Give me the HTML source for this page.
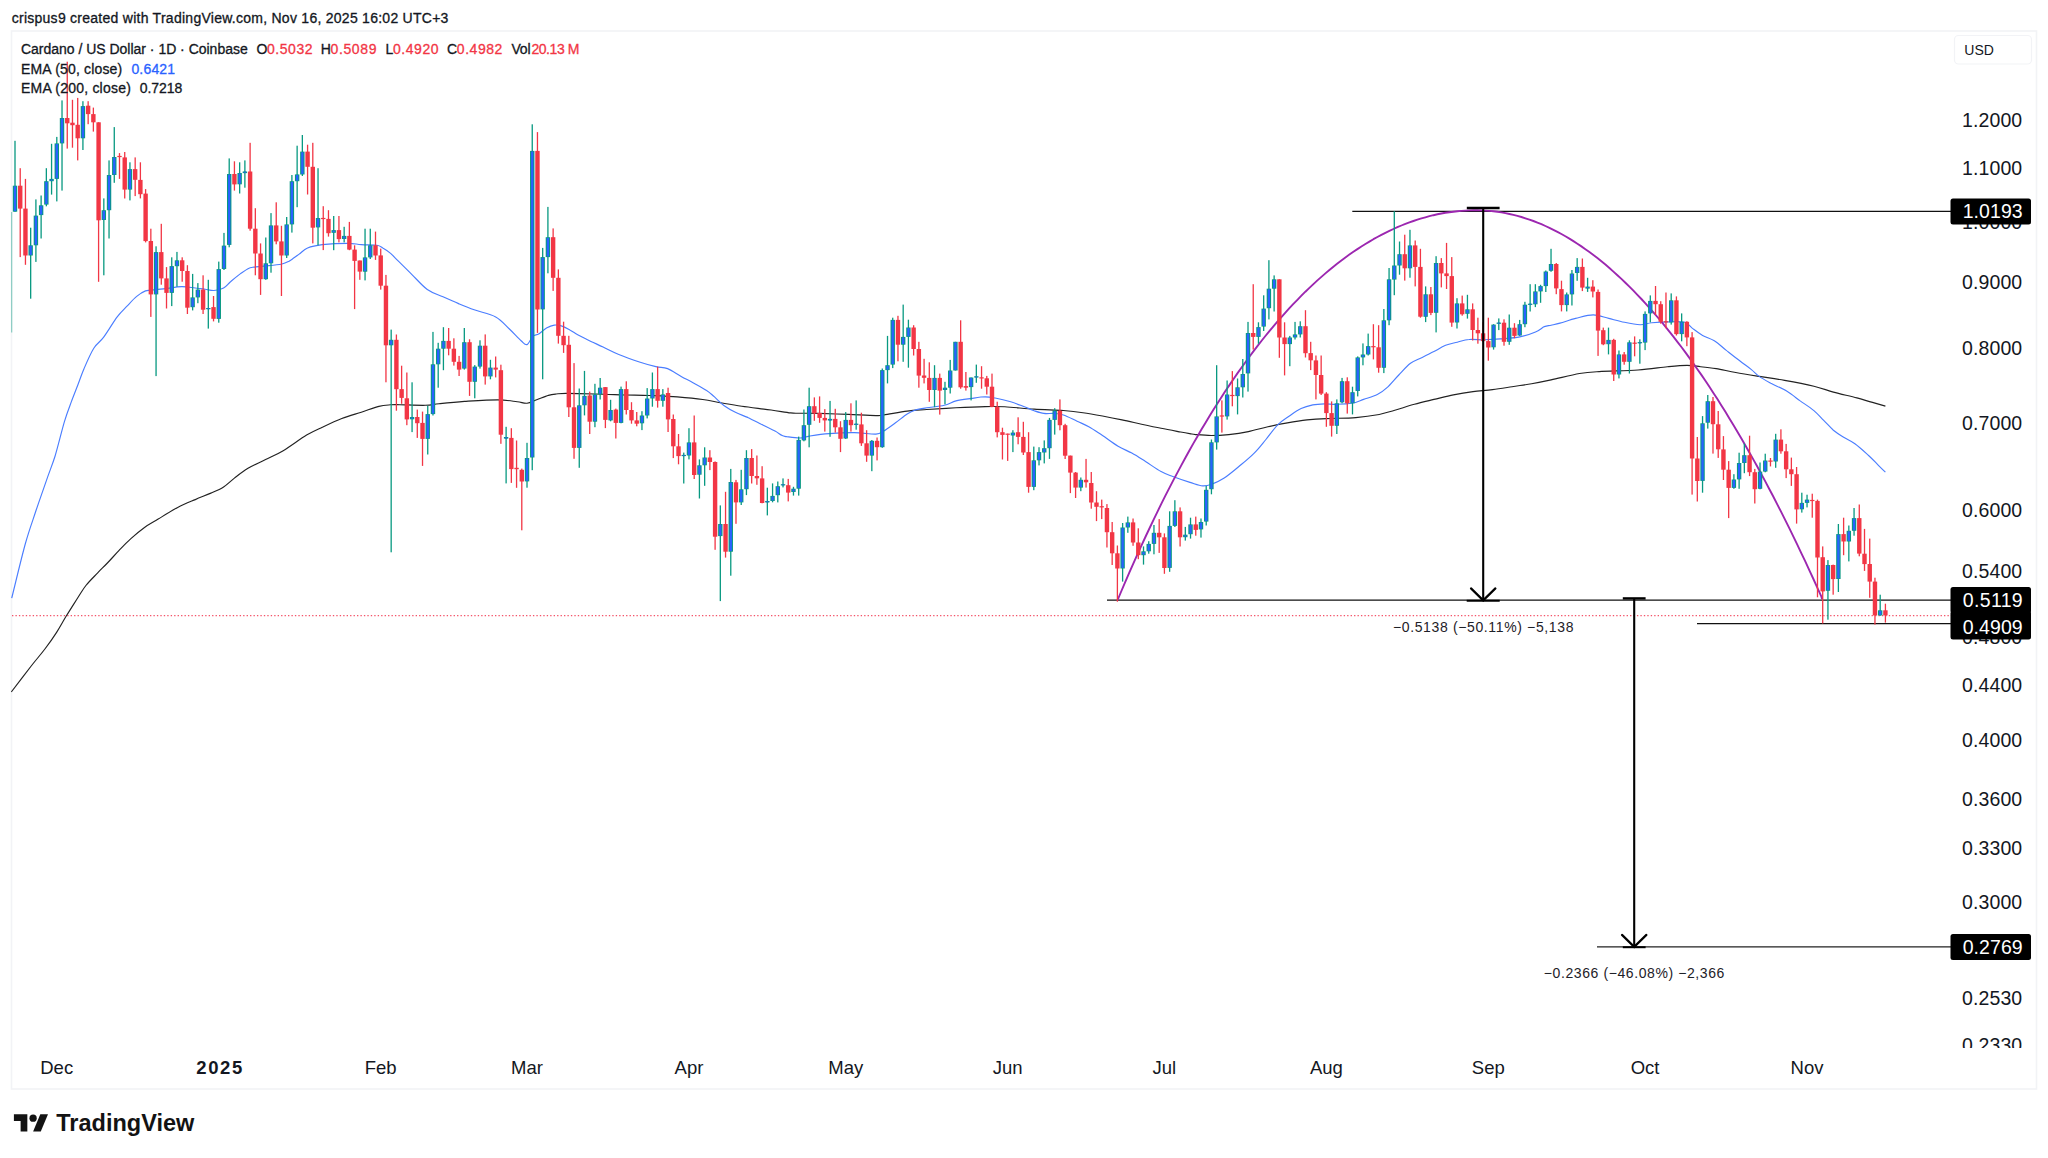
<!DOCTYPE html>
<html lang="en"><head><meta charset="utf-8"><title>Cardano / US Dollar chart</title>
<style>html,body{margin:0;padding:0;background:#fff}svg{display:block}</style></head>
<body>
<svg width="2048" height="1158" viewBox="0 0 2048 1158" font-family="'Liberation Sans', sans-serif">
<rect width="2048" height="1158" fill="#fff"/>
<g stroke="#131722" stroke-width="0.3">
<text x="11.7" y="22.8" font-size="14" fill="#131722" textLength="436.7" lengthAdjust="spacing">crispus9 created with TradingView.com, Nov 16, 2025 16:02 UTC+3</text>
</g>
<rect x="11.5" y="31" width="2025" height="1058" fill="none" stroke="#f2f3f6" stroke-width="1.6"/>
<defs><clipPath id="pane"><rect x="11" y="31.5" width="1941" height="1017"/></clipPath><clipPath id="axis"><rect x="1950" y="31.5" width="86" height="1016.5"/></clipPath></defs>
<g clip-path="url(#axis)">
<text x="1962.0" y="126.5" font-size="19.5" fill="#131722" textLength="60.2" lengthAdjust="spacing">1.2000</text>
<text x="1962.0" y="175.2" font-size="19.5" fill="#131722" textLength="60.2" lengthAdjust="spacing">1.1000</text>
<text x="1962.0" y="229.2" font-size="19.5" fill="#131722" textLength="60.2" lengthAdjust="spacing">1.0000</text>
<text x="1962.0" y="289.2" font-size="19.5" fill="#131722" textLength="60.2" lengthAdjust="spacing">0.9000</text>
<text x="1962.0" y="355.3" font-size="19.5" fill="#131722" textLength="60.2" lengthAdjust="spacing">0.8000</text>
<text x="1962.0" y="430.4" font-size="19.5" fill="#131722" textLength="60.2" lengthAdjust="spacing">0.7000</text>
<text x="1962.0" y="517.4" font-size="19.5" fill="#131722" textLength="60.2" lengthAdjust="spacing">0.6000</text>
<text x="1962.0" y="577.7" font-size="19.5" fill="#131722" textLength="60.2" lengthAdjust="spacing">0.5400</text>
<text x="1962.0" y="644.1" font-size="19.5" fill="#131722" textLength="60.2" lengthAdjust="spacing">0.4800</text>
<text x="1962.0" y="692.2" font-size="19.5" fill="#131722" textLength="60.2" lengthAdjust="spacing">0.4400</text>
<text x="1962.0" y="746.5" font-size="19.5" fill="#131722" textLength="60.2" lengthAdjust="spacing">0.4000</text>
<text x="1962.0" y="806.1" font-size="19.5" fill="#131722" textLength="60.2" lengthAdjust="spacing">0.3600</text>
<text x="1962.0" y="855.3" font-size="19.5" fill="#131722" textLength="60.2" lengthAdjust="spacing">0.3300</text>
<text x="1962.0" y="909.2" font-size="19.5" fill="#131722" textLength="60.2" lengthAdjust="spacing">0.3000</text>
<text x="1962.0" y="1004.9" font-size="19.5" fill="#131722" textLength="60.2" lengthAdjust="spacing">0.2530</text>
<text x="1962.0" y="1052.1" font-size="19.5" fill="#131722" textLength="60.2" lengthAdjust="spacing">0.2330</text>
</g>
<text x="56.7" y="1074.0" font-size="18.5" fill="#131722" text-anchor="middle">Dec</text>
<text x="219.3" y="1074.0" font-size="18.5" fill="#131722" font-weight="bold" textLength="46.0" lengthAdjust="spacing" text-anchor="middle">2025</text>
<text x="380.7" y="1074.0" font-size="18.5" fill="#131722" text-anchor="middle">Feb</text>
<text x="527.0" y="1074.0" font-size="18.5" fill="#131722" text-anchor="middle">Mar</text>
<text x="689.0" y="1074.0" font-size="18.5" fill="#131722" text-anchor="middle">Apr</text>
<text x="845.7" y="1074.0" font-size="18.5" fill="#131722" text-anchor="middle">May</text>
<text x="1007.7" y="1074.0" font-size="18.5" fill="#131722" text-anchor="middle">Jun</text>
<text x="1164.4" y="1074.0" font-size="18.5" fill="#131722" text-anchor="middle">Jul</text>
<text x="1326.4" y="1074.0" font-size="18.5" fill="#131722" text-anchor="middle">Aug</text>
<text x="1488.3" y="1074.0" font-size="18.5" fill="#131722" text-anchor="middle">Sep</text>
<text x="1645.1" y="1074.0" font-size="18.5" fill="#131722" text-anchor="middle">Oct</text>
<text x="1807.0" y="1074.0" font-size="18.5" fill="#131722" text-anchor="middle">Nov</text>
<g clip-path="url(#pane)">
<rect x="11.3" y="212" width="0.9" height="120.5" fill="#089981" opacity="0.6"/>
<line x1="12" y1="615.5" x2="1951" y2="615.5" stroke="#f3425a" stroke-width="1.25" stroke-dasharray="1.35 2.1" opacity="0.9"/>
<line x1="1352.3" y1="211.4" x2="1951" y2="211.4" stroke="#111" stroke-width="1.3"/>
<line x1="1107" y1="600.1" x2="1951" y2="600.1" stroke="#111" stroke-width="1.3"/>
<line x1="1697" y1="623.6" x2="1951" y2="623.6" stroke="#111" stroke-width="1.3"/>
<line x1="1597" y1="946.8" x2="1951" y2="946.8" stroke="#222" stroke-width="1.3"/>
<path d="M11.3,692.0C14.6,687.6 25.7,673.1 31.2,666.0C36.8,658.8 40.7,654.6 44.9,649.0C49.2,643.4 53.1,637.9 56.6,632.4C60.2,626.8 62.8,621.6 66.4,615.8C70.0,609.9 74.9,602.3 78.1,597.2C81.4,592.2 82.7,589.6 85.9,585.5C89.2,581.4 94.1,576.6 97.7,572.8C101.2,569.1 103.8,566.8 107.4,563.0C111.0,559.3 115.2,554.4 119.1,550.4C123.0,546.3 126.6,542.4 130.9,538.6C135.1,534.8 140.0,530.8 144.5,527.5C149.1,524.2 152.7,522.5 158.2,519.1C163.7,515.7 171.5,510.6 177.7,507.4C183.9,504.1 189.8,501.9 195.3,499.6C200.8,497.2 206.2,495.2 210.9,493.1C215.7,491.0 219.7,489.4 223.6,486.9C227.5,484.4 230.3,481.2 234.4,478.1C238.4,475.0 242.8,471.4 248.0,468.3C253.3,465.2 259.8,462.5 265.6,459.5C271.5,456.6 276.4,454.8 283.2,450.7C290.0,446.7 300.1,439.0 306.6,435.1C313.2,431.2 316.4,430.0 322.3,427.3C328.1,424.5 335.3,421.0 341.8,418.5C348.3,416.0 355.1,414.2 361.3,412.2C367.5,410.2 374.0,407.6 378.9,406.4C383.8,405.1 387.1,405.1 390.6,404.8C394.1,404.5 394.2,404.6 400.0,404.7C405.8,404.8 418.9,405.5 425.4,405.3C431.9,405.1 432.6,404.4 439.1,403.8C445.6,403.1 454.7,402.1 464.5,401.4C474.2,400.8 488.9,399.8 497.7,399.8C506.4,399.9 512.3,401.2 517.2,401.8C522.1,402.4 523.7,403.5 527.0,403.2C530.2,402.8 533.1,401.1 536.7,399.8C540.3,398.5 545.2,396.3 548.4,395.4C551.7,394.4 553.3,394.3 556.2,394.0C559.2,393.7 559.5,393.4 566.0,393.4C572.5,393.4 585.5,393.7 595.3,394.0C605.1,394.2 615.5,394.7 624.6,395.0C633.7,395.2 641.2,395.2 650.0,395.5C658.8,395.9 668.6,396.3 677.3,396.9C686.1,397.6 695.6,398.5 702.7,399.5C709.9,400.4 713.8,401.6 720.3,402.8C726.8,403.9 733.3,405.1 741.8,406.3C750.3,407.5 763.0,408.9 771.1,410.0C779.2,411.1 785.8,412.4 790.6,412.9C795.4,413.5 795.0,413.2 799.8,413.2C804.5,413.3 811.2,413.2 819.3,413.4C827.4,413.6 839.2,414.1 848.6,414.4C858.0,414.8 870.1,415.5 875.9,415.6C881.8,415.7 878.5,415.7 883.8,415.0C889.0,414.3 900.0,412.0 907.2,411.1C914.3,410.2 918.6,410.1 926.7,409.5C934.9,409.0 946.2,408.3 956.0,407.8C965.8,407.3 977.2,406.8 985.3,406.6C993.5,406.4 996.7,406.4 1004.8,406.8C1013.0,407.2 1024.4,408.5 1034.1,409.1C1043.9,409.8 1055.3,409.9 1063.4,410.5C1071.6,411.1 1076.5,411.7 1083.0,412.7C1089.5,413.6 1096.0,414.8 1102.5,416.0C1109.0,417.2 1115.5,418.5 1122.0,419.9C1128.5,421.2 1135.1,422.8 1141.6,424.2C1148.1,425.6 1154.6,427.0 1161.1,428.3C1167.6,429.6 1175.8,431.1 1180.6,432.0C1185.4,432.9 1187.3,433.2 1189.8,433.6C1192.3,434.0 1192.0,434.2 1195.6,434.6C1199.2,434.9 1205.7,435.5 1211.2,435.5C1216.8,435.5 1222.6,435.2 1228.8,434.6C1235.0,433.9 1241.8,432.9 1248.4,431.6C1254.9,430.3 1261.4,428.2 1267.9,426.8C1274.4,425.3 1280.9,424.0 1287.4,422.9C1293.9,421.7 1300.4,420.6 1307.0,419.9C1313.5,419.2 1318.3,418.9 1326.5,418.6C1334.6,418.2 1347.0,418.3 1355.8,417.6C1364.6,416.9 1372.7,415.7 1379.2,414.5C1385.7,413.2 1389.0,411.8 1394.8,410.2C1400.7,408.5 1407.9,406.1 1414.4,404.3C1420.9,402.5 1427.4,401.0 1433.9,399.4C1440.4,397.9 1446.9,396.2 1453.4,394.9C1459.9,393.6 1466.5,392.5 1473.0,391.6C1479.5,390.7 1486.0,390.5 1492.5,389.6C1499.0,388.8 1505.5,387.7 1512.0,386.7C1518.5,385.7 1525.1,384.9 1531.6,383.8C1538.1,382.6 1543.1,381.6 1551.1,379.9C1559.1,378.2 1571.5,374.9 1579.5,373.5C1587.5,372.1 1589.3,372.1 1599.1,371.6C1608.8,371.0 1626.7,370.8 1638.1,370.0C1649.5,369.2 1659.3,367.5 1667.4,366.7C1675.6,365.9 1681.4,365.3 1687.0,365.3C1692.5,365.3 1695.7,366.1 1700.6,366.7C1705.5,367.2 1710.4,367.7 1716.2,368.6C1722.1,369.6 1728.6,371.2 1735.8,372.5C1742.9,373.8 1751.1,375.1 1759.2,376.4C1767.4,377.7 1775.5,378.7 1784.6,380.4C1793.7,382.0 1805.8,384.3 1813.9,386.2C1822.0,388.2 1826.3,390.1 1833.4,392.1C1840.6,394.0 1850.4,396.2 1856.9,397.9C1863.4,399.7 1867.7,401.1 1872.5,402.4C1877.3,403.8 1883.2,405.5 1885.4,406.1" fill="none" stroke="#222" stroke-width="1.15"/>
<path d="M11.7,598.2C14.0,589.1 21.3,558.2 25.4,543.5C29.5,528.9 32.6,521.1 36.1,510.3C39.7,499.6 43.7,488.1 46.9,479.1C50.0,470.0 52.1,465.6 55.1,456.0C58.0,446.4 61.8,430.4 64.5,421.4C67.2,412.4 69.0,408.1 71.3,401.9C73.6,395.7 76.0,389.8 78.1,384.3C80.2,378.8 81.4,374.7 84.0,368.7C86.6,362.6 90.5,353.4 93.8,348.2C97.0,343.0 99.6,342.6 103.5,337.4C107.4,332.2 113.3,322.1 117.2,316.9C121.1,311.7 123.7,309.6 127.0,306.2C130.2,302.8 133.6,298.9 136.7,296.4C139.8,293.9 142.3,292.1 145.5,290.9C148.8,289.8 152.8,290.0 156.2,289.6C159.7,289.2 161.8,289.1 166.0,288.6C170.2,288.1 176.8,286.7 181.6,286.6C186.5,286.5 191.4,287.6 195.3,288.0C199.2,288.4 202.0,288.8 205.1,289.2C208.2,289.6 210.8,290.7 213.9,290.5C217.0,290.4 220.9,289.5 223.6,288.0C226.4,286.5 227.7,284.1 230.5,281.8C233.2,279.4 237.3,276.1 240.2,273.9C243.2,271.8 245.8,269.8 248.0,268.7C250.3,267.5 251.3,267.5 253.9,267.1C256.5,266.7 259.1,266.6 263.7,266.1C268.2,265.6 277.0,265.0 281.2,264.2C285.5,263.4 286.1,262.9 289.1,261.2C292.0,259.6 295.7,256.6 298.8,254.4C301.9,252.2 303.7,249.6 307.6,248.0C311.5,246.3 315.6,245.4 322.3,244.6C328.9,243.9 341.1,243.3 347.7,243.3C354.2,243.3 356.4,244.3 361.3,244.6C366.2,245.0 373.4,244.7 377.0,245.2C380.5,245.8 380.5,246.6 382.8,248.0C385.1,249.3 388.0,251.2 390.6,253.4C393.2,255.7 394.9,257.8 398.4,261.2C402.0,264.7 406.9,269.6 411.7,274.3C416.5,279.0 422.1,285.8 427.3,289.5C432.6,293.3 437.8,294.4 443.0,296.8C448.2,299.1 453.4,301.4 458.6,303.6C463.8,305.8 468.0,307.6 474.2,309.8C480.4,312.1 489.8,313.7 495.7,316.9C501.6,320.1 505.1,325.0 509.4,329.0C513.6,333.0 518.2,338.1 521.1,340.7C524.0,343.3 525.0,345.3 527.0,344.6C528.9,343.9 530.9,338.2 532.8,336.4C534.8,334.6 536.4,335.3 538.7,333.9C541.0,332.5 543.9,329.5 546.5,328.0C549.1,326.5 551.7,325.4 554.3,325.1C556.9,324.8 559.5,325.2 562.1,326.1C564.7,326.9 567.3,328.5 569.9,330.0C572.5,331.4 574.8,333.2 577.7,334.8C580.7,336.5 583.3,337.7 587.5,339.7C591.7,341.8 597.9,344.6 603.1,347.1C608.3,349.6 612.6,352.0 618.8,354.5C624.9,357.1 634.0,360.3 640.2,362.3C646.4,364.4 651.3,365.6 655.9,366.6C660.4,367.7 663.3,367.0 667.6,368.6C671.8,370.2 677.0,374.1 681.2,376.4C685.5,378.8 688.7,380.3 693.0,382.7C697.2,385.0 703.1,388.1 706.6,390.5C710.2,392.8 711.5,394.4 714.5,396.9C717.4,399.5 720.6,403.1 724.2,405.7C727.8,408.3 732.0,410.6 735.9,412.5C739.8,414.5 743.4,415.5 747.7,417.4C751.9,419.4 756.8,422.0 761.3,424.3C765.9,426.5 771.5,429.2 775.0,431.1C778.5,433.0 780.2,434.6 782.2,435.5C784.1,436.4 783.8,436.1 786.7,436.6C789.6,437.0 796.0,438.1 799.8,438.0C803.6,438.0 804.6,436.8 809.5,436.1C814.4,435.3 821.6,434.1 829.1,433.6C836.5,433.0 846.6,432.5 854.5,432.6C862.3,432.7 871.1,434.4 875.9,434.1C880.8,433.9 880.5,432.9 883.8,431.0C887.0,429.1 891.6,425.6 895.5,422.8C899.4,420.0 903.9,416.1 907.2,414.0C910.4,411.9 911.7,411.2 915.0,410.1C918.3,409.1 921.8,408.6 926.7,407.8C931.6,407.0 939.4,406.4 944.3,405.2C949.2,404.1 951.5,402.1 956.0,400.9C960.6,399.8 966.8,399.1 971.6,398.4C976.5,397.7 981.4,396.9 985.3,396.8C989.2,396.8 990.8,397.2 995.1,398.0C999.3,398.8 1005.8,400.3 1010.7,401.7C1015.6,403.2 1020.5,405.3 1024.4,406.8C1028.3,408.3 1030.9,409.6 1034.1,410.7C1037.4,411.8 1040.7,413.0 1043.9,413.4C1047.2,413.9 1050.4,413.2 1053.7,413.4C1056.9,413.7 1059.5,413.7 1063.4,415.0C1067.3,416.3 1072.9,419.3 1077.1,421.2C1081.3,423.2 1084.6,424.3 1088.8,426.7C1093.1,429.1 1097.6,432.3 1102.5,435.5C1107.4,438.8 1113.2,443.3 1118.1,446.2C1123.0,449.2 1127.2,450.5 1131.8,453.1C1136.4,455.6 1140.6,458.4 1145.5,461.5C1150.4,464.6 1156.5,469.1 1161.1,471.6C1165.7,474.1 1168.0,474.7 1172.8,476.5C1177.6,478.3 1185.0,480.8 1190.0,482.4C1195.0,483.9 1199.0,485.6 1202.7,485.9C1206.5,486.2 1208.9,485.2 1212.5,483.9C1216.1,482.6 1219.9,480.9 1224.2,478.1C1228.6,475.2 1233.6,471.0 1238.6,466.8C1243.6,462.6 1249.7,457.7 1254.2,453.1C1258.8,448.6 1262.0,444.2 1265.9,439.5C1269.8,434.7 1273.8,428.7 1277.7,424.8C1281.6,420.9 1285.5,418.7 1289.4,416.0C1293.3,413.3 1297.2,410.4 1301.1,408.6C1305.0,406.7 1308.9,405.7 1312.8,404.9C1316.7,404.1 1320.6,404.0 1324.5,403.9C1328.4,403.8 1331.7,404.4 1336.2,404.3C1340.8,404.2 1347.3,404.1 1351.9,403.3C1356.4,402.5 1359.4,400.9 1363.6,399.4C1367.8,397.9 1373.4,396.5 1377.3,394.5C1381.2,392.6 1383.5,391.0 1387.0,387.7C1390.6,384.4 1394.8,379.1 1398.8,375.0C1402.7,370.9 1406.6,366.2 1410.5,363.3C1414.4,360.4 1418.3,359.4 1422.2,357.4C1426.1,355.5 1430.0,353.6 1433.9,351.6C1437.8,349.5 1441.7,346.9 1445.6,345.3C1449.5,343.8 1453.4,343.2 1457.3,342.2C1461.2,341.2 1464.5,339.8 1469.1,339.5C1473.6,339.1 1479.5,339.9 1484.7,339.8C1489.9,339.7 1494.5,339.4 1500.3,338.9C1506.2,338.4 1514.0,338.1 1519.8,336.9C1525.7,335.8 1531.4,333.7 1535.5,332.0C1539.6,330.3 1541.8,327.8 1544.4,326.6C1547.0,325.5 1548.5,325.8 1551.1,325.2C1553.7,324.6 1555.9,324.3 1560.0,323.1C1564.1,322.0 1570.1,319.8 1575.6,318.4C1581.2,317.1 1587.7,314.9 1593.2,314.9C1598.7,314.9 1603.6,317.2 1608.8,318.4C1614.0,319.7 1619.2,321.3 1624.5,322.3C1629.7,323.4 1635.5,324.6 1640.1,324.7C1644.6,324.8 1646.9,323.2 1651.8,322.7C1656.7,322.2 1663.8,321.8 1669.4,321.8C1674.9,321.7 1681.1,321.2 1685.0,322.3C1688.9,323.5 1689.9,326.4 1692.8,328.6C1695.7,330.8 1699.0,333.4 1702.6,335.4C1706.2,337.4 1710.4,338.3 1714.3,340.7C1718.2,343.1 1721.8,346.7 1726.0,350.1C1730.2,353.4 1735.5,357.6 1739.7,360.8C1743.9,364.1 1748.2,367.0 1751.4,369.6C1754.7,372.2 1756.0,374.2 1759.2,376.4C1762.5,378.7 1766.4,380.8 1770.9,383.3C1775.5,385.7 1781.7,388.2 1786.6,391.1C1791.4,394.0 1795.7,397.6 1800.2,400.9C1804.8,404.1 1810.0,407.4 1813.9,410.6C1817.8,413.9 1820.4,417.1 1823.7,420.4C1826.9,423.6 1830.2,427.4 1833.4,430.2C1836.7,432.9 1839.6,434.7 1843.2,437.0C1846.8,439.3 1850.7,440.7 1854.9,443.8C1859.2,446.9 1864.7,452.0 1868.6,455.5C1872.5,459.1 1875.6,462.5 1878.4,465.3C1881.2,468.1 1884.2,471.0 1885.4,472.1" fill="none" stroke="#4a7dff" stroke-width="1.15"/>
<path d="M1117.4,600.5 L1121.4,591.0 L1125.4,581.7 L1129.4,572.4 L1133.4,563.4 L1137.4,554.4 L1141.4,545.6 L1145.4,537.0 L1149.4,528.5 L1153.4,520.1 L1157.4,511.8 L1161.4,503.7 L1165.4,495.7 L1169.4,487.9 L1173.4,480.1 L1177.4,472.6 L1181.4,465.1 L1185.4,457.7 L1189.4,450.5 L1193.4,443.4 L1197.4,436.5 L1201.4,429.6 L1205.4,422.9 L1209.4,416.3 L1213.4,409.8 L1217.4,403.5 L1221.4,397.2 L1225.4,391.1 L1229.4,385.1 L1233.4,379.2 L1237.4,373.4 L1241.4,367.7 L1245.4,362.2 L1249.4,356.7 L1253.4,351.4 L1257.4,346.1 L1261.4,341.0 L1265.4,336.0 L1269.4,331.1 L1273.4,326.3 L1277.4,321.6 L1281.4,317.1 L1285.4,312.6 L1289.4,308.2 L1293.4,303.9 L1297.4,299.8 L1301.4,295.7 L1305.4,291.7 L1309.4,287.9 L1313.4,284.1 L1317.4,280.4 L1321.4,276.9 L1325.4,273.4 L1329.4,270.0 L1333.4,266.7 L1337.4,263.6 L1341.4,260.5 L1345.4,257.5 L1349.4,254.6 L1353.4,251.8 L1357.4,249.1 L1361.4,246.5 L1365.4,244.0 L1369.4,241.6 L1373.4,239.2 L1377.4,237.0 L1381.4,234.9 L1385.4,232.8 L1389.4,230.9 L1393.4,229.0 L1397.4,227.2 L1401.4,225.5 L1405.4,223.9 L1409.4,222.4 L1413.4,221.0 L1417.4,219.7 L1421.4,218.4 L1425.4,217.3 L1429.4,216.2 L1433.4,215.2 L1437.4,214.3 L1441.4,213.5 L1445.4,212.8 L1449.4,212.2 L1453.4,211.7 L1457.4,211.2 L1461.4,210.9 L1465.4,210.6 L1469.4,210.4 L1473.4,210.3 L1477.4,210.3 L1481.4,210.4 L1485.4,210.6 L1489.4,210.9 L1493.4,211.3 L1497.4,211.8 L1501.4,212.4 L1505.4,213.1 L1509.4,214.0 L1513.4,214.9 L1517.4,215.9 L1521.4,217.0 L1525.4,218.3 L1529.4,219.6 L1533.4,221.0 L1537.4,222.6 L1541.4,224.2 L1545.4,226.0 L1549.4,227.8 L1553.4,229.8 L1557.4,231.8 L1561.4,234.0 L1565.4,236.3 L1569.4,238.6 L1573.4,241.1 L1577.4,243.7 L1581.4,246.4 L1585.4,249.2 L1589.4,252.0 L1593.4,255.0 L1597.4,258.1 L1601.4,261.3 L1605.4,264.6 L1609.4,268.0 L1613.4,271.6 L1617.4,275.2 L1621.4,278.9 L1625.4,282.7 L1629.4,286.6 L1633.4,290.7 L1637.4,294.8 L1641.4,299.0 L1645.4,303.4 L1649.4,307.8 L1653.4,312.3 L1657.4,317.0 L1661.4,321.7 L1665.4,326.6 L1669.4,331.6 L1673.4,336.6 L1677.4,341.8 L1681.4,347.0 L1685.4,352.4 L1689.4,357.9 L1693.4,363.5 L1697.4,369.2 L1701.4,374.9 L1705.4,380.8 L1709.4,386.8 L1713.4,392.9 L1717.4,399.1 L1721.4,405.4 L1725.4,411.8 L1729.4,418.4 L1733.4,425.0 L1737.4,431.7 L1741.4,438.5 L1745.4,445.4 L1749.4,452.5 L1753.4,459.6 L1757.4,466.8 L1761.4,474.2 L1765.4,481.6 L1769.4,489.2 L1773.4,496.8 L1777.4,504.6 L1781.4,512.4 L1785.4,520.4 L1789.4,528.4 L1793.4,536.6 L1797.4,544.9 L1801.4,553.3 L1805.4,561.7 L1809.4,570.3 L1813.4,579.0 L1817.4,587.8 L1821.4,596.7 L1822.1,599.2" fill="none" stroke="#9c27b0" stroke-width="1.9" stroke-linejoin="round"/>
<rect x="14.35" y="140.8" width="1.3" height="70.9" fill="#089981"/>
<rect x="19.57" y="168.2" width="1.3" height="88.9" fill="#f23645"/>
<rect x="24.80" y="178.9" width="1.3" height="85.9" fill="#f23645"/>
<rect x="30.02" y="227.7" width="1.3" height="71.0" fill="#089981"/>
<rect x="35.25" y="199.4" width="1.3" height="62.5" fill="#089981"/>
<rect x="40.47" y="195.5" width="1.3" height="43.0" fill="#089981"/>
<rect x="45.70" y="168.2" width="1.3" height="38.1" fill="#089981"/>
<rect x="50.92" y="143.8" width="1.3" height="50.8" fill="#089981"/>
<rect x="56.15" y="136.9" width="1.3" height="64.5" fill="#089981"/>
<rect x="61.37" y="100.4" width="1.3" height="90.2" fill="#089981"/>
<rect x="66.60" y="61.7" width="1.3" height="86.9" fill="#f23645"/>
<rect x="71.82" y="99.8" width="1.3" height="47.9" fill="#f23645"/>
<rect x="77.05" y="97.9" width="1.3" height="62.5" fill="#f23645"/>
<rect x="82.27" y="101.2" width="1.3" height="48.8" fill="#089981"/>
<rect x="87.49" y="101.2" width="1.3" height="23.0" fill="#f23645"/>
<rect x="92.72" y="107.6" width="1.3" height="24.0" fill="#f23645"/>
<rect x="97.94" y="122.3" width="1.3" height="159.5" fill="#f23645"/>
<rect x="103.17" y="198.4" width="1.3" height="76.9" fill="#089981"/>
<rect x="108.39" y="160.4" width="1.3" height="78.1" fill="#089981"/>
<rect x="113.62" y="127.1" width="1.3" height="55.7" fill="#089981"/>
<rect x="118.84" y="153.1" width="1.3" height="25.8" fill="#f23645"/>
<rect x="124.07" y="152.0" width="1.3" height="46.5" fill="#f23645"/>
<rect x="129.29" y="162.3" width="1.3" height="38.1" fill="#089981"/>
<rect x="134.52" y="157.4" width="1.3" height="38.7" fill="#f23645"/>
<rect x="139.74" y="162.3" width="1.3" height="36.1" fill="#f23645"/>
<rect x="144.96" y="189.1" width="1.3" height="53.3" fill="#f23645"/>
<rect x="150.19" y="228.7" width="1.3" height="88.2" fill="#f23645"/>
<rect x="155.41" y="246.3" width="1.3" height="129.8" fill="#089981"/>
<rect x="160.64" y="223.8" width="1.3" height="60.9" fill="#f23645"/>
<rect x="165.86" y="267.1" width="1.3" height="41.4" fill="#f23645"/>
<rect x="171.09" y="257.3" width="1.3" height="48.8" fill="#089981"/>
<rect x="176.31" y="251.9" width="1.3" height="34.8" fill="#089981"/>
<rect x="181.54" y="257.3" width="1.3" height="24.4" fill="#f23645"/>
<rect x="186.76" y="265.2" width="1.3" height="48.8" fill="#f23645"/>
<rect x="191.99" y="273.9" width="1.3" height="36.5" fill="#089981"/>
<rect x="197.21" y="283.1" width="1.3" height="20.1" fill="#089981"/>
<rect x="202.44" y="275.3" width="1.3" height="38.7" fill="#f23645"/>
<rect x="207.66" y="279.8" width="1.3" height="48.8" fill="#089981"/>
<rect x="212.88" y="296.0" width="1.3" height="25.4" fill="#f23645"/>
<rect x="218.11" y="261.6" width="1.3" height="61.1" fill="#089981"/>
<rect x="223.33" y="232.9" width="1.3" height="37.1" fill="#089981"/>
<rect x="228.56" y="158.4" width="1.3" height="88.9" fill="#089981"/>
<rect x="233.78" y="161.3" width="1.3" height="29.3" fill="#f23645"/>
<rect x="239.01" y="162.3" width="1.3" height="31.2" fill="#089981"/>
<rect x="244.23" y="160.4" width="1.3" height="27.3" fill="#089981"/>
<rect x="249.46" y="142.8" width="1.3" height="87.9" fill="#f23645"/>
<rect x="254.68" y="208.2" width="1.3" height="67.1" fill="#f23645"/>
<rect x="259.91" y="243.4" width="1.3" height="51.5" fill="#f23645"/>
<rect x="265.13" y="237.5" width="1.3" height="42.3" fill="#089981"/>
<rect x="270.36" y="213.1" width="1.3" height="59.6" fill="#089981"/>
<rect x="275.58" y="202.3" width="1.3" height="42.0" fill="#f23645"/>
<rect x="280.80" y="225.8" width="1.3" height="70.2" fill="#f23645"/>
<rect x="286.03" y="217.0" width="1.3" height="41.0" fill="#089981"/>
<rect x="291.25" y="175.0" width="1.3" height="57.6" fill="#089981"/>
<rect x="296.48" y="145.7" width="1.3" height="61.5" fill="#089981"/>
<rect x="301.70" y="135.0" width="1.3" height="41.0" fill="#089981"/>
<rect x="306.93" y="144.7" width="1.3" height="49.8" fill="#f23645"/>
<rect x="312.15" y="142.8" width="1.3" height="100.6" fill="#f23645"/>
<rect x="317.38" y="168.2" width="1.3" height="77.1" fill="#089981"/>
<rect x="322.60" y="206.2" width="1.3" height="43.9" fill="#f23645"/>
<rect x="327.83" y="210.2" width="1.3" height="26.4" fill="#f23645"/>
<rect x="333.05" y="216.0" width="1.3" height="34.2" fill="#089981"/>
<rect x="338.28" y="216.0" width="1.3" height="26.4" fill="#f23645"/>
<rect x="343.50" y="226.8" width="1.3" height="15.6" fill="#089981"/>
<rect x="348.72" y="221.9" width="1.3" height="28.3" fill="#f23645"/>
<rect x="353.95" y="245.3" width="1.3" height="63.8" fill="#f23645"/>
<rect x="359.17" y="260.5" width="1.3" height="19.3" fill="#f23645"/>
<rect x="364.40" y="228.7" width="1.3" height="51.7" fill="#089981"/>
<rect x="369.62" y="228.7" width="1.3" height="30.3" fill="#089981"/>
<rect x="374.85" y="231.6" width="1.3" height="28.3" fill="#f23645"/>
<rect x="380.07" y="248.6" width="1.3" height="41.0" fill="#f23645"/>
<rect x="385.30" y="274.9" width="1.3" height="107.4" fill="#f23645"/>
<rect x="390.52" y="329.6" width="1.3" height="222.7" fill="#089981"/>
<rect x="395.75" y="334.5" width="1.3" height="76.2" fill="#f23645"/>
<rect x="400.97" y="365.7" width="1.3" height="38.1" fill="#f23645"/>
<rect x="406.19" y="372.5" width="1.3" height="52.7" fill="#f23645"/>
<rect x="411.42" y="382.3" width="1.3" height="49.8" fill="#089981"/>
<rect x="416.64" y="409.6" width="1.3" height="28.3" fill="#f23645"/>
<rect x="421.87" y="411.6" width="1.3" height="54.3" fill="#f23645"/>
<rect x="427.09" y="405.7" width="1.3" height="48.8" fill="#089981"/>
<rect x="432.32" y="331.9" width="1.3" height="83.6" fill="#089981"/>
<rect x="437.54" y="342.8" width="1.3" height="44.9" fill="#089981"/>
<rect x="442.77" y="327.2" width="1.3" height="43.0" fill="#089981"/>
<rect x="447.99" y="328.0" width="1.3" height="27.3" fill="#f23645"/>
<rect x="453.22" y="338.3" width="1.3" height="27.3" fill="#f23645"/>
<rect x="458.44" y="355.9" width="1.3" height="20.1" fill="#f23645"/>
<rect x="463.67" y="328.0" width="1.3" height="41.6" fill="#089981"/>
<rect x="468.89" y="339.3" width="1.3" height="56.6" fill="#f23645"/>
<rect x="474.11" y="365.1" width="1.3" height="33.2" fill="#089981"/>
<rect x="479.34" y="340.3" width="1.3" height="28.3" fill="#089981"/>
<rect x="484.56" y="334.4" width="1.3" height="50.2" fill="#f23645"/>
<rect x="489.79" y="359.8" width="1.3" height="19.5" fill="#089981"/>
<rect x="495.01" y="356.5" width="1.3" height="20.9" fill="#f23645"/>
<rect x="500.24" y="364.7" width="1.3" height="79.1" fill="#f23645"/>
<rect x="505.46" y="426.8" width="1.3" height="56.6" fill="#089981"/>
<rect x="510.69" y="428.2" width="1.3" height="54.7" fill="#f23645"/>
<rect x="515.91" y="440.5" width="1.3" height="47.3" fill="#f23645"/>
<rect x="521.14" y="468.6" width="1.3" height="61.7" fill="#f23645"/>
<rect x="526.36" y="442.8" width="1.3" height="44.9" fill="#089981"/>
<rect x="531.59" y="124.3" width="1.3" height="345.9" fill="#089981"/>
<rect x="536.81" y="132.1" width="1.3" height="200.8" fill="#f23645"/>
<rect x="542.03" y="247.9" width="1.3" height="131.4" fill="#089981"/>
<rect x="547.26" y="206.9" width="1.3" height="66.4" fill="#089981"/>
<rect x="552.48" y="228.4" width="1.3" height="62.5" fill="#f23645"/>
<rect x="557.71" y="269.4" width="1.3" height="74.2" fill="#f23645"/>
<rect x="562.93" y="321.7" width="1.3" height="31.2" fill="#f23645"/>
<rect x="568.16" y="335.8" width="1.3" height="81.2" fill="#f23645"/>
<rect x="573.38" y="363.1" width="1.3" height="95.7" fill="#f23645"/>
<rect x="578.61" y="388.5" width="1.3" height="79.3" fill="#089981"/>
<rect x="583.83" y="370.9" width="1.3" height="44.5" fill="#089981"/>
<rect x="589.06" y="391.6" width="1.3" height="42.4" fill="#f23645"/>
<rect x="594.28" y="383.8" width="1.3" height="43.4" fill="#089981"/>
<rect x="599.51" y="378.0" width="1.3" height="21.5" fill="#089981"/>
<rect x="604.73" y="387.1" width="1.3" height="41.0" fill="#f23645"/>
<rect x="609.95" y="399.8" width="1.3" height="21.5" fill="#089981"/>
<rect x="615.18" y="408.6" width="1.3" height="29.9" fill="#f23645"/>
<rect x="620.40" y="386.6" width="1.3" height="36.7" fill="#089981"/>
<rect x="625.63" y="381.3" width="1.3" height="33.2" fill="#f23645"/>
<rect x="630.85" y="402.2" width="1.3" height="21.5" fill="#f23645"/>
<rect x="636.08" y="412.0" width="1.3" height="14.3" fill="#f23645"/>
<rect x="641.30" y="411.2" width="1.3" height="18.9" fill="#089981"/>
<rect x="646.53" y="388.1" width="1.3" height="30.3" fill="#089981"/>
<rect x="651.75" y="372.5" width="1.3" height="34.2" fill="#089981"/>
<rect x="656.98" y="366.6" width="1.3" height="41.0" fill="#f23645"/>
<rect x="662.20" y="389.1" width="1.3" height="17.6" fill="#089981"/>
<rect x="667.42" y="387.7" width="1.3" height="44.3" fill="#f23645"/>
<rect x="672.65" y="414.5" width="1.3" height="43.6" fill="#f23645"/>
<rect x="677.87" y="434.0" width="1.3" height="30.3" fill="#f23645"/>
<rect x="683.10" y="452.6" width="1.3" height="30.9" fill="#089981"/>
<rect x="688.32" y="428.2" width="1.3" height="31.2" fill="#089981"/>
<rect x="693.55" y="415.5" width="1.3" height="63.5" fill="#f23645"/>
<rect x="698.77" y="459.4" width="1.3" height="39.1" fill="#089981"/>
<rect x="704.00" y="447.3" width="1.3" height="38.5" fill="#089981"/>
<rect x="709.22" y="450.2" width="1.3" height="19.9" fill="#f23645"/>
<rect x="714.45" y="461.4" width="1.3" height="88.4" fill="#f23645"/>
<rect x="719.67" y="505.4" width="1.3" height="95.7" fill="#089981"/>
<rect x="724.90" y="491.8" width="1.3" height="65.8" fill="#f23645"/>
<rect x="730.12" y="468.9" width="1.3" height="106.8" fill="#089981"/>
<rect x="735.34" y="479.9" width="1.3" height="43.9" fill="#f23645"/>
<rect x="740.57" y="469.8" width="1.3" height="35.2" fill="#089981"/>
<rect x="745.79" y="450.2" width="1.3" height="44.9" fill="#089981"/>
<rect x="751.02" y="449.1" width="1.3" height="34.4" fill="#f23645"/>
<rect x="756.24" y="455.5" width="1.3" height="29.3" fill="#f23645"/>
<rect x="761.47" y="466.2" width="1.3" height="37.1" fill="#f23645"/>
<rect x="766.69" y="487.7" width="1.3" height="27.7" fill="#089981"/>
<rect x="771.92" y="483.4" width="1.3" height="18.9" fill="#089981"/>
<rect x="777.14" y="481.5" width="1.3" height="20.9" fill="#089981"/>
<rect x="782.37" y="478.4" width="1.3" height="9.0" fill="#089981"/>
<rect x="787.59" y="478.9" width="1.3" height="22.5" fill="#f23645"/>
<rect x="792.82" y="486.8" width="1.3" height="8.8" fill="#089981"/>
<rect x="798.04" y="436.6" width="1.3" height="59.0" fill="#089981"/>
<rect x="803.26" y="409.5" width="1.3" height="31.8" fill="#089981"/>
<rect x="808.49" y="387.7" width="1.3" height="59.6" fill="#089981"/>
<rect x="813.71" y="397.4" width="1.3" height="23.4" fill="#f23645"/>
<rect x="818.94" y="396.4" width="1.3" height="26.4" fill="#f23645"/>
<rect x="824.16" y="409.1" width="1.3" height="22.5" fill="#f23645"/>
<rect x="829.39" y="400.9" width="1.3" height="35.9" fill="#089981"/>
<rect x="834.61" y="408.8" width="1.3" height="23.8" fill="#f23645"/>
<rect x="839.84" y="421.2" width="1.3" height="30.9" fill="#f23645"/>
<rect x="845.06" y="412.1" width="1.3" height="26.8" fill="#089981"/>
<rect x="850.29" y="403.3" width="1.3" height="28.3" fill="#f23645"/>
<rect x="855.51" y="400.4" width="1.3" height="29.3" fill="#089981"/>
<rect x="860.74" y="412.7" width="1.3" height="33.2" fill="#f23645"/>
<rect x="865.96" y="430.2" width="1.3" height="31.6" fill="#f23645"/>
<rect x="871.18" y="440.0" width="1.3" height="31.2" fill="#089981"/>
<rect x="876.41" y="437.5" width="1.3" height="22.9" fill="#f23645"/>
<rect x="881.63" y="368.5" width="1.3" height="79.3" fill="#089981"/>
<rect x="886.86" y="335.9" width="1.3" height="47.5" fill="#089981"/>
<rect x="892.08" y="317.7" width="1.3" height="50.4" fill="#089981"/>
<rect x="897.31" y="315.8" width="1.3" height="45.5" fill="#f23645"/>
<rect x="902.53" y="304.6" width="1.3" height="57.2" fill="#089981"/>
<rect x="907.76" y="319.7" width="1.3" height="48.0" fill="#089981"/>
<rect x="912.98" y="325.2" width="1.3" height="30.3" fill="#f23645"/>
<rect x="918.21" y="341.8" width="1.3" height="45.9" fill="#f23645"/>
<rect x="923.43" y="358.8" width="1.3" height="24.6" fill="#f23645"/>
<rect x="928.65" y="362.3" width="1.3" height="39.5" fill="#f23645"/>
<rect x="933.88" y="365.2" width="1.3" height="42.0" fill="#089981"/>
<rect x="939.10" y="373.6" width="1.3" height="41.0" fill="#f23645"/>
<rect x="944.33" y="381.8" width="1.3" height="22.5" fill="#089981"/>
<rect x="949.55" y="359.9" width="1.3" height="33.6" fill="#089981"/>
<rect x="954.78" y="341.8" width="1.3" height="28.7" fill="#089981"/>
<rect x="960.00" y="320.3" width="1.3" height="68.4" fill="#f23645"/>
<rect x="965.23" y="372.0" width="1.3" height="18.6" fill="#f23645"/>
<rect x="970.45" y="377.5" width="1.3" height="22.9" fill="#089981"/>
<rect x="975.68" y="364.6" width="1.3" height="18.2" fill="#089981"/>
<rect x="980.90" y="366.2" width="1.3" height="22.5" fill="#f23645"/>
<rect x="986.13" y="375.9" width="1.3" height="18.6" fill="#f23645"/>
<rect x="991.35" y="373.6" width="1.3" height="33.6" fill="#f23645"/>
<rect x="996.57" y="401.7" width="1.3" height="35.7" fill="#f23645"/>
<rect x="1001.80" y="427.7" width="1.3" height="31.8" fill="#f23645"/>
<rect x="1007.02" y="433.6" width="1.3" height="27.3" fill="#f23645"/>
<rect x="1012.25" y="430.2" width="1.3" height="21.9" fill="#089981"/>
<rect x="1017.47" y="417.3" width="1.3" height="27.0" fill="#f23645"/>
<rect x="1022.70" y="421.8" width="1.3" height="33.2" fill="#f23645"/>
<rect x="1027.92" y="432.2" width="1.3" height="60.5" fill="#f23645"/>
<rect x="1033.15" y="446.6" width="1.3" height="43.6" fill="#089981"/>
<rect x="1038.37" y="447.2" width="1.3" height="18.2" fill="#089981"/>
<rect x="1043.60" y="440.4" width="1.3" height="23.0" fill="#089981"/>
<rect x="1048.82" y="417.9" width="1.3" height="41.0" fill="#089981"/>
<rect x="1054.05" y="408.2" width="1.3" height="26.4" fill="#089981"/>
<rect x="1059.27" y="399.4" width="1.3" height="30.9" fill="#f23645"/>
<rect x="1064.49" y="423.8" width="1.3" height="35.2" fill="#f23645"/>
<rect x="1069.72" y="455.6" width="1.3" height="37.5" fill="#f23645"/>
<rect x="1074.94" y="472.0" width="1.3" height="26.0" fill="#f23645"/>
<rect x="1080.17" y="477.5" width="1.3" height="13.7" fill="#089981"/>
<rect x="1085.39" y="458.9" width="1.3" height="28.7" fill="#f23645"/>
<rect x="1090.62" y="472.0" width="1.3" height="36.7" fill="#f23645"/>
<rect x="1095.84" y="491.2" width="1.3" height="29.9" fill="#f23645"/>
<rect x="1101.07" y="499.6" width="1.3" height="19.5" fill="#f23645"/>
<rect x="1106.29" y="504.1" width="1.3" height="43.4" fill="#f23645"/>
<rect x="1111.52" y="522.0" width="1.3" height="43.0" fill="#f23645"/>
<rect x="1116.74" y="545.5" width="1.3" height="56.2" fill="#f23645"/>
<rect x="1121.97" y="523.0" width="1.3" height="58.6" fill="#089981"/>
<rect x="1127.19" y="516.6" width="1.3" height="16.2" fill="#089981"/>
<rect x="1132.41" y="518.5" width="1.3" height="27.3" fill="#f23645"/>
<rect x="1137.64" y="528.3" width="1.3" height="30.9" fill="#f23645"/>
<rect x="1142.86" y="546.4" width="1.3" height="18.2" fill="#089981"/>
<rect x="1148.09" y="541.2" width="1.3" height="12.5" fill="#089981"/>
<rect x="1153.31" y="525.0" width="1.3" height="29.3" fill="#089981"/>
<rect x="1158.54" y="519.1" width="1.3" height="33.8" fill="#f23645"/>
<rect x="1163.76" y="533.4" width="1.3" height="40.4" fill="#f23645"/>
<rect x="1168.99" y="511.3" width="1.3" height="60.5" fill="#089981"/>
<rect x="1174.21" y="500.2" width="1.3" height="26.8" fill="#089981"/>
<rect x="1179.44" y="507.4" width="1.3" height="39.1" fill="#f23645"/>
<rect x="1184.66" y="526.9" width="1.3" height="13.7" fill="#089981"/>
<rect x="1189.88" y="517.7" width="1.3" height="20.9" fill="#089981"/>
<rect x="1195.11" y="516.6" width="1.3" height="19.1" fill="#f23645"/>
<rect x="1200.33" y="518.5" width="1.3" height="19.1" fill="#089981"/>
<rect x="1205.56" y="485.9" width="1.3" height="39.6" fill="#089981"/>
<rect x="1210.78" y="439.5" width="1.3" height="54.8" fill="#089981"/>
<rect x="1216.01" y="365.2" width="1.3" height="84.4" fill="#089981"/>
<rect x="1221.23" y="400.4" width="1.3" height="32.2" fill="#f23645"/>
<rect x="1226.46" y="380.5" width="1.3" height="39.1" fill="#089981"/>
<rect x="1231.68" y="371.1" width="1.3" height="35.2" fill="#f23645"/>
<rect x="1236.91" y="378.5" width="1.3" height="35.9" fill="#089981"/>
<rect x="1242.13" y="359.0" width="1.3" height="38.5" fill="#089981"/>
<rect x="1247.36" y="321.9" width="1.3" height="69.7" fill="#089981"/>
<rect x="1252.58" y="284.2" width="1.3" height="65.4" fill="#f23645"/>
<rect x="1257.80" y="322.3" width="1.3" height="21.5" fill="#089981"/>
<rect x="1263.03" y="295.3" width="1.3" height="35.7" fill="#089981"/>
<rect x="1268.25" y="260.2" width="1.3" height="59.2" fill="#089981"/>
<rect x="1273.48" y="275.4" width="1.3" height="36.1" fill="#089981"/>
<rect x="1278.70" y="279.3" width="1.3" height="78.5" fill="#f23645"/>
<rect x="1283.93" y="322.3" width="1.3" height="53.1" fill="#f23645"/>
<rect x="1289.15" y="335.9" width="1.3" height="30.3" fill="#089981"/>
<rect x="1294.38" y="321.9" width="1.3" height="17.6" fill="#089981"/>
<rect x="1299.60" y="321.3" width="1.3" height="16.2" fill="#089981"/>
<rect x="1304.83" y="310.2" width="1.3" height="47.3" fill="#f23645"/>
<rect x="1310.05" y="341.8" width="1.3" height="28.3" fill="#f23645"/>
<rect x="1315.28" y="355.5" width="1.3" height="43.9" fill="#f23645"/>
<rect x="1320.50" y="355.5" width="1.3" height="39.5" fill="#f23645"/>
<rect x="1325.72" y="392.2" width="1.3" height="34.6" fill="#f23645"/>
<rect x="1330.95" y="401.4" width="1.3" height="35.2" fill="#f23645"/>
<rect x="1336.17" y="399.4" width="1.3" height="34.6" fill="#089981"/>
<rect x="1341.40" y="377.9" width="1.3" height="25.4" fill="#089981"/>
<rect x="1346.62" y="377.3" width="1.3" height="36.3" fill="#f23645"/>
<rect x="1351.85" y="386.7" width="1.3" height="27.7" fill="#089981"/>
<rect x="1357.07" y="356.4" width="1.3" height="40.0" fill="#089981"/>
<rect x="1362.30" y="343.4" width="1.3" height="21.9" fill="#089981"/>
<rect x="1367.52" y="333.6" width="1.3" height="21.9" fill="#089981"/>
<rect x="1372.75" y="324.2" width="1.3" height="35.2" fill="#f23645"/>
<rect x="1377.97" y="325.2" width="1.3" height="47.5" fill="#f23645"/>
<rect x="1383.20" y="309.0" width="1.3" height="64.1" fill="#089981"/>
<rect x="1388.42" y="268.0" width="1.3" height="57.2" fill="#089981"/>
<rect x="1393.64" y="211.2" width="1.3" height="84.0" fill="#089981"/>
<rect x="1398.87" y="241.5" width="1.3" height="33.2" fill="#089981"/>
<rect x="1404.09" y="234.7" width="1.3" height="45.9" fill="#f23645"/>
<rect x="1409.32" y="229.8" width="1.3" height="47.9" fill="#089981"/>
<rect x="1414.54" y="240.5" width="1.3" height="45.9" fill="#f23645"/>
<rect x="1419.77" y="248.8" width="1.3" height="68.9" fill="#f23645"/>
<rect x="1424.99" y="286.4" width="1.3" height="35.7" fill="#089981"/>
<rect x="1430.22" y="287.0" width="1.3" height="28.1" fill="#f23645"/>
<rect x="1435.44" y="256.2" width="1.3" height="76.2" fill="#089981"/>
<rect x="1440.67" y="258.1" width="1.3" height="29.3" fill="#f23645"/>
<rect x="1445.89" y="242.9" width="1.3" height="46.1" fill="#f23645"/>
<rect x="1451.11" y="257.1" width="1.3" height="69.7" fill="#f23645"/>
<rect x="1456.34" y="298.2" width="1.3" height="30.3" fill="#089981"/>
<rect x="1461.56" y="295.6" width="1.3" height="20.1" fill="#f23645"/>
<rect x="1466.79" y="294.8" width="1.3" height="23.8" fill="#089981"/>
<rect x="1472.01" y="303.4" width="1.3" height="37.1" fill="#f23645"/>
<rect x="1477.24" y="317.7" width="1.3" height="26.0" fill="#f23645"/>
<rect x="1482.46" y="322.2" width="1.3" height="19.9" fill="#f23645"/>
<rect x="1487.69" y="317.7" width="1.3" height="43.0" fill="#f23645"/>
<rect x="1492.91" y="324.2" width="1.3" height="25.4" fill="#089981"/>
<rect x="1498.14" y="318.4" width="1.3" height="11.7" fill="#089981"/>
<rect x="1503.36" y="319.3" width="1.3" height="26.4" fill="#f23645"/>
<rect x="1508.59" y="314.5" width="1.3" height="30.3" fill="#089981"/>
<rect x="1513.81" y="323.2" width="1.3" height="15.0" fill="#f23645"/>
<rect x="1519.03" y="319.9" width="1.3" height="16.0" fill="#089981"/>
<rect x="1524.26" y="301.8" width="1.3" height="25.4" fill="#089981"/>
<rect x="1529.48" y="284.2" width="1.3" height="27.3" fill="#089981"/>
<rect x="1534.71" y="284.2" width="1.3" height="22.9" fill="#089981"/>
<rect x="1539.93" y="284.8" width="1.3" height="18.0" fill="#089981"/>
<rect x="1545.16" y="270.5" width="1.3" height="21.5" fill="#089981"/>
<rect x="1550.38" y="248.8" width="1.3" height="23.0" fill="#089981"/>
<rect x="1555.61" y="263.0" width="1.3" height="31.2" fill="#f23645"/>
<rect x="1560.83" y="280.7" width="1.3" height="30.7" fill="#f23645"/>
<rect x="1566.06" y="292.5" width="1.3" height="18.9" fill="#089981"/>
<rect x="1571.28" y="270.0" width="1.3" height="35.5" fill="#089981"/>
<rect x="1576.51" y="258.1" width="1.3" height="22.7" fill="#089981"/>
<rect x="1581.73" y="258.5" width="1.3" height="32.6" fill="#f23645"/>
<rect x="1586.95" y="277.8" width="1.3" height="14.1" fill="#089981"/>
<rect x="1592.18" y="280.2" width="1.3" height="17.2" fill="#f23645"/>
<rect x="1597.40" y="289.5" width="1.3" height="66.4" fill="#f23645"/>
<rect x="1602.63" y="327.6" width="1.3" height="17.6" fill="#f23645"/>
<rect x="1607.85" y="327.6" width="1.3" height="26.8" fill="#089981"/>
<rect x="1613.08" y="338.8" width="1.3" height="42.2" fill="#f23645"/>
<rect x="1618.30" y="350.5" width="1.3" height="27.9" fill="#089981"/>
<rect x="1623.53" y="352.0" width="1.3" height="12.7" fill="#f23645"/>
<rect x="1628.75" y="340.3" width="1.3" height="33.2" fill="#089981"/>
<rect x="1633.98" y="336.4" width="1.3" height="19.9" fill="#f23645"/>
<rect x="1639.20" y="339.3" width="1.3" height="24.4" fill="#089981"/>
<rect x="1644.43" y="311.4" width="1.3" height="38.7" fill="#089981"/>
<rect x="1649.65" y="295.4" width="1.3" height="27.0" fill="#089981"/>
<rect x="1654.87" y="286.0" width="1.3" height="28.9" fill="#f23645"/>
<rect x="1660.10" y="301.2" width="1.3" height="22.5" fill="#f23645"/>
<rect x="1665.32" y="292.5" width="1.3" height="35.7" fill="#f23645"/>
<rect x="1670.55" y="293.4" width="1.3" height="31.2" fill="#089981"/>
<rect x="1675.77" y="296.4" width="1.3" height="39.1" fill="#f23645"/>
<rect x="1681.00" y="313.4" width="1.3" height="27.9" fill="#089981"/>
<rect x="1686.22" y="321.2" width="1.3" height="25.0" fill="#f23645"/>
<rect x="1691.45" y="332.1" width="1.3" height="162.5" fill="#f23645"/>
<rect x="1696.67" y="437.0" width="1.3" height="64.5" fill="#f23645"/>
<rect x="1701.90" y="416.1" width="1.3" height="76.6" fill="#089981"/>
<rect x="1707.12" y="395.0" width="1.3" height="33.6" fill="#089981"/>
<rect x="1712.34" y="397.0" width="1.3" height="56.6" fill="#f23645"/>
<rect x="1717.57" y="411.0" width="1.3" height="46.9" fill="#f23645"/>
<rect x="1722.79" y="436.1" width="1.3" height="43.9" fill="#f23645"/>
<rect x="1728.02" y="461.1" width="1.3" height="57.0" fill="#f23645"/>
<rect x="1733.24" y="474.2" width="1.3" height="14.6" fill="#089981"/>
<rect x="1738.47" y="452.7" width="1.3" height="36.1" fill="#089981"/>
<rect x="1743.69" y="443.5" width="1.3" height="29.7" fill="#089981"/>
<rect x="1748.92" y="435.7" width="1.3" height="40.4" fill="#f23645"/>
<rect x="1754.14" y="468.9" width="1.3" height="34.6" fill="#f23645"/>
<rect x="1759.37" y="462.5" width="1.3" height="26.8" fill="#089981"/>
<rect x="1764.59" y="453.7" width="1.3" height="18.6" fill="#089981"/>
<rect x="1769.82" y="458.0" width="1.3" height="8.4" fill="#f23645"/>
<rect x="1775.04" y="433.8" width="1.3" height="34.0" fill="#089981"/>
<rect x="1780.26" y="429.3" width="1.3" height="24.4" fill="#f23645"/>
<rect x="1785.49" y="443.9" width="1.3" height="34.2" fill="#f23645"/>
<rect x="1790.71" y="457.6" width="1.3" height="28.3" fill="#f23645"/>
<rect x="1795.94" y="467.0" width="1.3" height="56.6" fill="#f23645"/>
<rect x="1801.16" y="492.7" width="1.3" height="19.9" fill="#089981"/>
<rect x="1806.39" y="494.7" width="1.3" height="12.7" fill="#089981"/>
<rect x="1811.61" y="493.7" width="1.3" height="24.0" fill="#f23645"/>
<rect x="1816.84" y="499.6" width="1.3" height="97.7" fill="#f23645"/>
<rect x="1822.06" y="546.4" width="1.3" height="77.1" fill="#f23645"/>
<rect x="1827.29" y="560.1" width="1.3" height="59.6" fill="#089981"/>
<rect x="1832.51" y="564.6" width="1.3" height="30.1" fill="#f23645"/>
<rect x="1837.74" y="524.0" width="1.3" height="68.0" fill="#089981"/>
<rect x="1842.96" y="517.7" width="1.3" height="37.5" fill="#f23645"/>
<rect x="1848.18" y="525.5" width="1.3" height="35.9" fill="#089981"/>
<rect x="1853.41" y="508.0" width="1.3" height="27.7" fill="#089981"/>
<rect x="1858.63" y="504.5" width="1.3" height="51.8" fill="#f23645"/>
<rect x="1863.86" y="528.9" width="1.3" height="42.0" fill="#f23645"/>
<rect x="1869.08" y="538.6" width="1.3" height="59.2" fill="#f23645"/>
<rect x="1874.31" y="577.7" width="1.3" height="46.9" fill="#f23645"/>
<rect x="1879.53" y="594.7" width="1.3" height="21.1" fill="#089981"/>
<rect x="1884.76" y="603.7" width="1.3" height="18.9" fill="#f23645"/>
<rect x="12.80" y="185.7" width="4.4" height="26.0" fill="#089981"/>
<rect x="13.85" y="186.3" width="2.3" height="24.8" fill="#2962ff"/>
<rect x="18.02" y="185.7" width="4.4" height="22.9" fill="#f23645"/>
<rect x="23.25" y="208.6" width="4.4" height="46.9" fill="#f23645"/>
<rect x="28.47" y="245.3" width="4.4" height="10.2" fill="#089981"/>
<rect x="29.52" y="245.9" width="2.3" height="9.0" fill="#2962ff"/>
<rect x="33.70" y="215.6" width="4.4" height="29.7" fill="#089981"/>
<rect x="34.75" y="216.2" width="2.3" height="28.5" fill="#2962ff"/>
<rect x="38.92" y="205.3" width="4.4" height="9.8" fill="#089981"/>
<rect x="39.97" y="205.9" width="2.3" height="8.6" fill="#2962ff"/>
<rect x="44.15" y="181.2" width="4.4" height="23.4" fill="#089981"/>
<rect x="45.20" y="181.8" width="2.3" height="22.2" fill="#2962ff"/>
<rect x="49.37" y="178.9" width="4.4" height="2.3" fill="#089981"/>
<rect x="50.42" y="179.5" width="2.3" height="1.1" fill="#2962ff"/>
<rect x="54.60" y="143.4" width="4.4" height="35.5" fill="#089981"/>
<rect x="55.65" y="144.0" width="2.3" height="34.3" fill="#2962ff"/>
<rect x="59.82" y="118.0" width="4.4" height="25.4" fill="#089981"/>
<rect x="60.87" y="118.6" width="2.3" height="24.2" fill="#2962ff"/>
<rect x="65.05" y="118.0" width="4.4" height="5.3" fill="#f23645"/>
<rect x="70.27" y="122.7" width="4.4" height="2.5" fill="#f23645"/>
<rect x="75.50" y="124.8" width="4.4" height="13.5" fill="#f23645"/>
<rect x="80.72" y="106.1" width="4.4" height="32.2" fill="#089981"/>
<rect x="81.77" y="106.7" width="2.3" height="31.0" fill="#2962ff"/>
<rect x="85.94" y="105.7" width="4.4" height="8.4" fill="#f23645"/>
<rect x="91.17" y="114.1" width="4.4" height="8.2" fill="#f23645"/>
<rect x="96.39" y="122.3" width="4.4" height="98.0" fill="#f23645"/>
<rect x="101.62" y="210.2" width="4.4" height="9.8" fill="#089981"/>
<rect x="102.67" y="210.8" width="2.3" height="8.6" fill="#2962ff"/>
<rect x="106.84" y="175.0" width="4.4" height="35.2" fill="#089981"/>
<rect x="107.89" y="175.6" width="2.3" height="34.0" fill="#2962ff"/>
<rect x="112.07" y="157.0" width="4.4" height="18.0" fill="#089981"/>
<rect x="113.12" y="157.6" width="2.3" height="16.8" fill="#2962ff"/>
<rect x="117.29" y="155.9" width="4.4" height="1.2" fill="#f23645"/>
<rect x="122.52" y="157.4" width="4.4" height="32.2" fill="#f23645"/>
<rect x="127.74" y="169.1" width="4.4" height="20.5" fill="#089981"/>
<rect x="128.79" y="169.7" width="2.3" height="19.3" fill="#2962ff"/>
<rect x="132.97" y="169.1" width="4.4" height="10.7" fill="#f23645"/>
<rect x="138.19" y="179.9" width="4.4" height="14.3" fill="#f23645"/>
<rect x="143.41" y="193.6" width="4.4" height="47.5" fill="#f23645"/>
<rect x="148.64" y="241.0" width="4.4" height="53.4" fill="#f23645"/>
<rect x="153.86" y="252.1" width="4.4" height="42.3" fill="#089981"/>
<rect x="154.91" y="252.7" width="2.3" height="41.1" fill="#2962ff"/>
<rect x="159.09" y="252.1" width="4.4" height="26.3" fill="#f23645"/>
<rect x="164.31" y="278.4" width="4.4" height="14.5" fill="#f23645"/>
<rect x="169.54" y="266.1" width="4.4" height="26.8" fill="#089981"/>
<rect x="170.59" y="266.7" width="2.3" height="25.6" fill="#2962ff"/>
<rect x="174.76" y="260.3" width="4.4" height="5.9" fill="#089981"/>
<rect x="175.81" y="260.9" width="2.3" height="4.7" fill="#2962ff"/>
<rect x="179.99" y="260.3" width="4.4" height="10.7" fill="#f23645"/>
<rect x="185.21" y="271.0" width="4.4" height="36.7" fill="#f23645"/>
<rect x="190.44" y="297.4" width="4.4" height="9.8" fill="#089981"/>
<rect x="191.49" y="298.0" width="2.3" height="8.6" fill="#2962ff"/>
<rect x="195.66" y="289.6" width="4.4" height="7.8" fill="#089981"/>
<rect x="196.71" y="290.2" width="2.3" height="6.6" fill="#2962ff"/>
<rect x="200.89" y="289.6" width="4.4" height="20.1" fill="#f23645"/>
<rect x="206.11" y="308.0" width="4.4" height="1.2" fill="#089981"/>
<rect x="207.16" y="308.0" width="2.3" height="1.2" fill="#1f6fd0"/>
<rect x="211.33" y="307.1" width="4.4" height="11.7" fill="#f23645"/>
<rect x="216.56" y="269.1" width="4.4" height="49.8" fill="#089981"/>
<rect x="217.61" y="269.7" width="2.3" height="48.6" fill="#2962ff"/>
<rect x="221.78" y="245.6" width="4.4" height="23.4" fill="#089981"/>
<rect x="222.83" y="246.2" width="2.3" height="22.2" fill="#2962ff"/>
<rect x="227.01" y="174.0" width="4.4" height="70.9" fill="#089981"/>
<rect x="228.06" y="174.6" width="2.3" height="69.7" fill="#2962ff"/>
<rect x="232.23" y="174.0" width="4.4" height="10.4" fill="#f23645"/>
<rect x="237.46" y="173.0" width="4.4" height="11.3" fill="#089981"/>
<rect x="238.51" y="173.6" width="2.3" height="10.1" fill="#2962ff"/>
<rect x="242.68" y="171.5" width="4.4" height="1.6" fill="#089981"/>
<rect x="243.73" y="171.5" width="2.3" height="1.6" fill="#1f6fd0"/>
<rect x="247.91" y="171.5" width="4.4" height="57.2" fill="#f23645"/>
<rect x="253.13" y="228.7" width="4.4" height="24.8" fill="#f23645"/>
<rect x="258.36" y="253.5" width="4.4" height="25.7" fill="#f23645"/>
<rect x="263.58" y="263.3" width="4.4" height="15.9" fill="#089981"/>
<rect x="264.63" y="263.9" width="2.3" height="14.7" fill="#2962ff"/>
<rect x="268.81" y="225.4" width="4.4" height="37.9" fill="#089981"/>
<rect x="269.86" y="226.0" width="2.3" height="36.7" fill="#2962ff"/>
<rect x="274.03" y="225.4" width="4.4" height="16.0" fill="#f23645"/>
<rect x="279.25" y="241.4" width="4.4" height="14.1" fill="#f23645"/>
<rect x="284.48" y="224.4" width="4.4" height="31.1" fill="#089981"/>
<rect x="285.53" y="225.0" width="2.3" height="29.9" fill="#2962ff"/>
<rect x="289.70" y="181.2" width="4.4" height="43.2" fill="#089981"/>
<rect x="290.75" y="181.8" width="2.3" height="42.0" fill="#2962ff"/>
<rect x="294.93" y="174.4" width="4.4" height="6.8" fill="#089981"/>
<rect x="295.98" y="175.0" width="2.3" height="5.6" fill="#2962ff"/>
<rect x="300.15" y="151.6" width="4.4" height="22.9" fill="#089981"/>
<rect x="301.20" y="152.2" width="2.3" height="21.7" fill="#2962ff"/>
<rect x="305.38" y="151.6" width="4.4" height="15.2" fill="#f23645"/>
<rect x="310.60" y="166.8" width="4.4" height="60.9" fill="#f23645"/>
<rect x="315.83" y="218.0" width="4.4" height="9.4" fill="#089981"/>
<rect x="316.88" y="218.6" width="2.3" height="8.2" fill="#2962ff"/>
<rect x="321.05" y="217.9" width="4.4" height="1.2" fill="#f23645"/>
<rect x="326.28" y="218.9" width="4.4" height="14.3" fill="#f23645"/>
<rect x="331.50" y="230.1" width="4.4" height="2.7" fill="#089981"/>
<rect x="332.55" y="230.7" width="2.3" height="1.5" fill="#2962ff"/>
<rect x="336.73" y="230.1" width="4.4" height="9.0" fill="#f23645"/>
<rect x="341.95" y="235.9" width="4.4" height="3.1" fill="#089981"/>
<rect x="343.00" y="236.5" width="2.3" height="1.9" fill="#2962ff"/>
<rect x="347.17" y="235.9" width="4.4" height="13.7" fill="#f23645"/>
<rect x="352.40" y="249.6" width="4.4" height="11.3" fill="#f23645"/>
<rect x="357.62" y="260.5" width="4.4" height="11.1" fill="#f23645"/>
<rect x="362.85" y="257.4" width="4.4" height="14.3" fill="#089981"/>
<rect x="363.90" y="258.0" width="2.3" height="13.1" fill="#2962ff"/>
<rect x="368.07" y="245.3" width="4.4" height="12.1" fill="#089981"/>
<rect x="369.12" y="245.9" width="2.3" height="10.9" fill="#2962ff"/>
<rect x="373.30" y="245.3" width="4.4" height="10.2" fill="#f23645"/>
<rect x="378.52" y="255.4" width="4.4" height="30.3" fill="#f23645"/>
<rect x="383.75" y="285.7" width="4.4" height="59.6" fill="#f23645"/>
<rect x="388.97" y="339.8" width="4.4" height="5.5" fill="#089981"/>
<rect x="390.02" y="340.4" width="2.3" height="4.3" fill="#2962ff"/>
<rect x="394.20" y="339.8" width="4.4" height="49.4" fill="#f23645"/>
<rect x="399.42" y="389.1" width="4.4" height="8.8" fill="#f23645"/>
<rect x="404.64" y="398.3" width="4.4" height="21.1" fill="#f23645"/>
<rect x="409.87" y="417.0" width="4.4" height="2.3" fill="#089981"/>
<rect x="410.92" y="417.6" width="2.3" height="1.1" fill="#2962ff"/>
<rect x="415.09" y="417.0" width="4.4" height="6.2" fill="#f23645"/>
<rect x="420.32" y="422.9" width="4.4" height="16.0" fill="#f23645"/>
<rect x="425.54" y="414.1" width="4.4" height="24.8" fill="#089981"/>
<rect x="426.59" y="414.7" width="2.3" height="23.6" fill="#2962ff"/>
<rect x="430.77" y="364.3" width="4.4" height="49.8" fill="#089981"/>
<rect x="431.82" y="364.9" width="2.3" height="48.6" fill="#2962ff"/>
<rect x="435.99" y="348.7" width="4.4" height="15.6" fill="#089981"/>
<rect x="437.04" y="349.3" width="2.3" height="14.4" fill="#2962ff"/>
<rect x="441.22" y="340.9" width="4.4" height="7.8" fill="#089981"/>
<rect x="442.27" y="341.5" width="2.3" height="6.6" fill="#2962ff"/>
<rect x="446.44" y="340.9" width="4.4" height="7.8" fill="#f23645"/>
<rect x="451.67" y="348.7" width="4.4" height="13.1" fill="#f23645"/>
<rect x="456.89" y="361.8" width="4.4" height="7.8" fill="#f23645"/>
<rect x="462.12" y="342.2" width="4.4" height="26.4" fill="#089981"/>
<rect x="463.17" y="342.8" width="2.3" height="25.2" fill="#2962ff"/>
<rect x="467.34" y="342.2" width="4.4" height="39.6" fill="#f23645"/>
<rect x="472.56" y="366.6" width="4.4" height="15.2" fill="#089981"/>
<rect x="473.61" y="367.2" width="2.3" height="14.0" fill="#2962ff"/>
<rect x="477.79" y="345.7" width="4.4" height="20.9" fill="#089981"/>
<rect x="478.84" y="346.3" width="2.3" height="19.7" fill="#2962ff"/>
<rect x="483.01" y="345.7" width="4.4" height="30.7" fill="#f23645"/>
<rect x="488.24" y="367.6" width="4.4" height="8.8" fill="#089981"/>
<rect x="489.29" y="368.2" width="2.3" height="7.6" fill="#2962ff"/>
<rect x="493.46" y="367.6" width="4.4" height="2.0" fill="#f23645"/>
<rect x="498.69" y="370.2" width="4.4" height="64.5" fill="#f23645"/>
<rect x="503.91" y="437.0" width="4.4" height="1.6" fill="#089981"/>
<rect x="504.96" y="437.0" width="2.3" height="1.6" fill="#1f6fd0"/>
<rect x="509.14" y="437.9" width="4.4" height="31.2" fill="#f23645"/>
<rect x="514.36" y="467.8" width="4.4" height="1.4" fill="#f23645"/>
<rect x="519.59" y="469.8" width="4.4" height="11.7" fill="#f23645"/>
<rect x="524.81" y="458.0" width="4.4" height="23.4" fill="#089981"/>
<rect x="525.86" y="458.6" width="2.3" height="22.2" fill="#2962ff"/>
<rect x="530.04" y="150.9" width="4.4" height="306.6" fill="#089981"/>
<rect x="531.09" y="151.5" width="2.3" height="305.4" fill="#2962ff"/>
<rect x="535.26" y="150.9" width="4.4" height="158.6" fill="#f23645"/>
<rect x="540.48" y="257.1" width="4.4" height="52.3" fill="#089981"/>
<rect x="541.53" y="257.7" width="2.3" height="51.1" fill="#2962ff"/>
<rect x="545.71" y="237.2" width="4.4" height="19.9" fill="#089981"/>
<rect x="546.76" y="237.8" width="2.3" height="18.7" fill="#2962ff"/>
<rect x="550.93" y="237.2" width="4.4" height="40.6" fill="#f23645"/>
<rect x="556.16" y="277.8" width="4.4" height="58.0" fill="#f23645"/>
<rect x="561.38" y="335.8" width="4.4" height="9.4" fill="#f23645"/>
<rect x="566.61" y="344.8" width="4.4" height="62.5" fill="#f23645"/>
<rect x="571.83" y="407.3" width="4.4" height="40.6" fill="#f23645"/>
<rect x="577.06" y="405.3" width="4.4" height="42.6" fill="#089981"/>
<rect x="578.11" y="405.9" width="2.3" height="41.4" fill="#2962ff"/>
<rect x="582.28" y="395.9" width="4.4" height="9.4" fill="#089981"/>
<rect x="583.33" y="396.5" width="2.3" height="8.2" fill="#2962ff"/>
<rect x="587.51" y="395.5" width="4.4" height="26.2" fill="#f23645"/>
<rect x="592.73" y="394.4" width="4.4" height="27.3" fill="#089981"/>
<rect x="593.78" y="395.0" width="2.3" height="26.1" fill="#2962ff"/>
<rect x="597.96" y="387.7" width="4.4" height="6.6" fill="#089981"/>
<rect x="599.01" y="388.3" width="2.3" height="5.4" fill="#2962ff"/>
<rect x="603.18" y="387.1" width="4.4" height="32.8" fill="#f23645"/>
<rect x="608.40" y="410.0" width="4.4" height="10.4" fill="#089981"/>
<rect x="609.45" y="410.6" width="2.3" height="9.2" fill="#2962ff"/>
<rect x="613.63" y="409.6" width="4.4" height="13.3" fill="#f23645"/>
<rect x="618.85" y="389.1" width="4.4" height="33.8" fill="#089981"/>
<rect x="619.90" y="389.7" width="2.3" height="32.6" fill="#2962ff"/>
<rect x="624.08" y="389.1" width="4.4" height="20.9" fill="#f23645"/>
<rect x="629.30" y="410.0" width="4.4" height="10.4" fill="#f23645"/>
<rect x="634.53" y="420.4" width="4.4" height="3.3" fill="#f23645"/>
<rect x="639.75" y="415.5" width="4.4" height="7.8" fill="#089981"/>
<rect x="640.80" y="416.1" width="2.3" height="6.6" fill="#2962ff"/>
<rect x="644.98" y="398.5" width="4.4" height="17.0" fill="#089981"/>
<rect x="646.03" y="399.1" width="2.3" height="15.8" fill="#2962ff"/>
<rect x="650.20" y="389.1" width="4.4" height="9.4" fill="#089981"/>
<rect x="651.25" y="389.7" width="2.3" height="8.2" fill="#2962ff"/>
<rect x="655.43" y="389.1" width="4.4" height="11.7" fill="#f23645"/>
<rect x="660.65" y="394.4" width="4.4" height="6.4" fill="#089981"/>
<rect x="661.70" y="395.0" width="2.3" height="5.2" fill="#2962ff"/>
<rect x="665.87" y="393.0" width="4.4" height="26.4" fill="#f23645"/>
<rect x="671.10" y="419.0" width="4.4" height="27.3" fill="#f23645"/>
<rect x="676.32" y="446.3" width="4.4" height="9.8" fill="#f23645"/>
<rect x="681.55" y="454.9" width="4.4" height="1.2" fill="#089981"/>
<rect x="682.60" y="454.9" width="2.3" height="1.2" fill="#1f6fd0"/>
<rect x="686.77" y="442.4" width="4.4" height="13.1" fill="#089981"/>
<rect x="687.82" y="443.0" width="2.3" height="11.9" fill="#2962ff"/>
<rect x="692.00" y="442.4" width="4.4" height="32.6" fill="#f23645"/>
<rect x="697.22" y="465.3" width="4.4" height="9.4" fill="#089981"/>
<rect x="698.27" y="465.9" width="2.3" height="8.2" fill="#2962ff"/>
<rect x="702.45" y="457.5" width="4.4" height="7.8" fill="#089981"/>
<rect x="703.50" y="458.1" width="2.3" height="6.6" fill="#2962ff"/>
<rect x="707.67" y="457.5" width="4.4" height="4.5" fill="#f23645"/>
<rect x="712.90" y="462.0" width="4.4" height="74.7" fill="#f23645"/>
<rect x="718.12" y="524.0" width="4.4" height="12.1" fill="#089981"/>
<rect x="719.17" y="524.6" width="2.3" height="10.9" fill="#2962ff"/>
<rect x="723.35" y="524.0" width="4.4" height="27.7" fill="#f23645"/>
<rect x="728.57" y="482.0" width="4.4" height="69.7" fill="#089981"/>
<rect x="729.62" y="482.6" width="2.3" height="68.5" fill="#2962ff"/>
<rect x="733.79" y="482.3" width="4.4" height="20.1" fill="#f23645"/>
<rect x="739.02" y="489.3" width="4.4" height="13.1" fill="#089981"/>
<rect x="740.07" y="489.9" width="2.3" height="11.9" fill="#2962ff"/>
<rect x="744.24" y="458.0" width="4.4" height="31.2" fill="#089981"/>
<rect x="745.29" y="458.6" width="2.3" height="30.1" fill="#2962ff"/>
<rect x="749.47" y="458.0" width="4.4" height="18.0" fill="#f23645"/>
<rect x="754.69" y="476.0" width="4.4" height="2.3" fill="#f23645"/>
<rect x="759.92" y="478.4" width="4.4" height="24.6" fill="#f23645"/>
<rect x="765.14" y="501.0" width="4.4" height="1.4" fill="#089981"/>
<rect x="766.19" y="501.0" width="2.3" height="1.4" fill="#1f6fd0"/>
<rect x="770.37" y="495.9" width="4.4" height="5.1" fill="#089981"/>
<rect x="771.42" y="496.5" width="2.3" height="3.9" fill="#2962ff"/>
<rect x="775.59" y="486.2" width="4.4" height="9.0" fill="#089981"/>
<rect x="776.64" y="486.8" width="2.3" height="7.8" fill="#2962ff"/>
<rect x="780.82" y="484.2" width="4.4" height="1.2" fill="#089981"/>
<rect x="781.87" y="484.2" width="2.3" height="1.2" fill="#1f6fd0"/>
<rect x="786.04" y="485.2" width="4.4" height="7.4" fill="#f23645"/>
<rect x="791.27" y="488.7" width="4.4" height="3.3" fill="#089981"/>
<rect x="792.32" y="489.3" width="2.3" height="2.1" fill="#2962ff"/>
<rect x="796.49" y="439.9" width="4.4" height="48.8" fill="#089981"/>
<rect x="797.54" y="440.5" width="2.3" height="47.6" fill="#2962ff"/>
<rect x="801.71" y="425.2" width="4.4" height="15.2" fill="#089981"/>
<rect x="802.76" y="425.8" width="2.3" height="14.0" fill="#2962ff"/>
<rect x="806.94" y="406.2" width="4.4" height="18.6" fill="#089981"/>
<rect x="807.99" y="406.8" width="2.3" height="17.4" fill="#2962ff"/>
<rect x="812.16" y="406.2" width="4.4" height="7.2" fill="#f23645"/>
<rect x="817.39" y="413.0" width="4.4" height="4.9" fill="#f23645"/>
<rect x="822.61" y="417.9" width="4.4" height="2.5" fill="#f23645"/>
<rect x="827.84" y="418.9" width="4.4" height="1.6" fill="#089981"/>
<rect x="828.89" y="418.9" width="2.3" height="1.6" fill="#1f6fd0"/>
<rect x="833.06" y="418.9" width="4.4" height="8.4" fill="#f23645"/>
<rect x="838.29" y="427.3" width="4.4" height="11.5" fill="#f23645"/>
<rect x="843.51" y="419.9" width="4.4" height="18.6" fill="#089981"/>
<rect x="844.56" y="420.5" width="2.3" height="17.4" fill="#2962ff"/>
<rect x="848.74" y="419.9" width="4.4" height="5.3" fill="#f23645"/>
<rect x="853.96" y="423.7" width="4.4" height="1.2" fill="#089981"/>
<rect x="855.01" y="423.7" width="2.3" height="1.2" fill="#1f6fd0"/>
<rect x="859.19" y="424.4" width="4.4" height="18.9" fill="#f23645"/>
<rect x="864.41" y="443.3" width="4.4" height="12.3" fill="#f23645"/>
<rect x="869.63" y="440.8" width="4.4" height="14.8" fill="#089981"/>
<rect x="870.68" y="441.4" width="2.3" height="13.6" fill="#2962ff"/>
<rect x="874.86" y="440.8" width="4.4" height="6.4" fill="#f23645"/>
<rect x="880.08" y="370.1" width="4.4" height="77.1" fill="#089981"/>
<rect x="881.13" y="370.7" width="2.3" height="75.9" fill="#2962ff"/>
<rect x="885.31" y="365.2" width="4.4" height="4.9" fill="#089981"/>
<rect x="886.36" y="365.8" width="2.3" height="3.7" fill="#2962ff"/>
<rect x="890.53" y="319.9" width="4.4" height="44.7" fill="#089981"/>
<rect x="891.58" y="320.5" width="2.3" height="43.5" fill="#2962ff"/>
<rect x="895.76" y="319.9" width="4.4" height="24.8" fill="#f23645"/>
<rect x="900.98" y="336.9" width="4.4" height="7.8" fill="#089981"/>
<rect x="902.03" y="337.5" width="2.3" height="6.6" fill="#2962ff"/>
<rect x="906.21" y="327.5" width="4.4" height="9.4" fill="#089981"/>
<rect x="907.26" y="328.1" width="2.3" height="8.2" fill="#2962ff"/>
<rect x="911.43" y="327.5" width="4.4" height="21.5" fill="#f23645"/>
<rect x="916.66" y="349.0" width="4.4" height="26.6" fill="#f23645"/>
<rect x="921.88" y="375.5" width="4.4" height="2.3" fill="#f23645"/>
<rect x="927.10" y="377.9" width="4.4" height="12.1" fill="#f23645"/>
<rect x="932.33" y="377.9" width="4.4" height="12.1" fill="#089981"/>
<rect x="933.38" y="378.5" width="2.3" height="10.9" fill="#2962ff"/>
<rect x="937.55" y="377.9" width="4.4" height="12.7" fill="#f23645"/>
<rect x="942.78" y="387.7" width="4.4" height="2.3" fill="#089981"/>
<rect x="943.83" y="388.3" width="2.3" height="1.1" fill="#2962ff"/>
<rect x="948.00" y="370.5" width="4.4" height="17.2" fill="#089981"/>
<rect x="949.05" y="371.1" width="2.3" height="16.0" fill="#2962ff"/>
<rect x="953.23" y="341.8" width="4.4" height="28.7" fill="#089981"/>
<rect x="954.28" y="342.4" width="2.3" height="27.5" fill="#2962ff"/>
<rect x="958.45" y="341.8" width="4.4" height="45.5" fill="#f23645"/>
<rect x="963.68" y="386.1" width="4.4" height="1.6" fill="#f23645"/>
<rect x="968.90" y="377.5" width="4.4" height="9.6" fill="#089981"/>
<rect x="969.95" y="378.1" width="2.3" height="8.4" fill="#2962ff"/>
<rect x="974.13" y="376.3" width="4.4" height="1.2" fill="#089981"/>
<rect x="975.18" y="376.3" width="2.3" height="1.2" fill="#1f6fd0"/>
<rect x="979.35" y="377.3" width="4.4" height="1.2" fill="#f23645"/>
<rect x="984.58" y="378.3" width="4.4" height="8.4" fill="#f23645"/>
<rect x="989.80" y="386.7" width="4.4" height="20.1" fill="#f23645"/>
<rect x="995.02" y="406.8" width="4.4" height="25.4" fill="#f23645"/>
<rect x="1000.25" y="432.2" width="4.4" height="2.7" fill="#f23645"/>
<rect x="1005.47" y="433.6" width="4.4" height="1.2" fill="#f23645"/>
<rect x="1010.70" y="432.6" width="4.4" height="2.9" fill="#089981"/>
<rect x="1011.75" y="433.2" width="2.3" height="1.7" fill="#2962ff"/>
<rect x="1015.92" y="432.2" width="4.4" height="4.7" fill="#f23645"/>
<rect x="1021.15" y="436.9" width="4.4" height="15.6" fill="#f23645"/>
<rect x="1026.37" y="452.1" width="4.4" height="34.8" fill="#f23645"/>
<rect x="1031.60" y="460.3" width="4.4" height="26.6" fill="#089981"/>
<rect x="1032.65" y="460.9" width="2.3" height="25.4" fill="#2962ff"/>
<rect x="1036.82" y="452.1" width="4.4" height="8.2" fill="#089981"/>
<rect x="1037.87" y="452.7" width="2.3" height="7.0" fill="#2962ff"/>
<rect x="1042.05" y="448.2" width="4.4" height="4.3" fill="#089981"/>
<rect x="1043.10" y="448.8" width="2.3" height="3.1" fill="#2962ff"/>
<rect x="1047.27" y="419.9" width="4.4" height="28.3" fill="#089981"/>
<rect x="1048.32" y="420.5" width="2.3" height="27.1" fill="#2962ff"/>
<rect x="1052.50" y="410.7" width="4.4" height="9.2" fill="#089981"/>
<rect x="1053.55" y="411.3" width="2.3" height="8.0" fill="#2962ff"/>
<rect x="1057.72" y="410.7" width="4.4" height="14.5" fill="#f23645"/>
<rect x="1062.94" y="425.2" width="4.4" height="30.5" fill="#f23645"/>
<rect x="1068.17" y="455.6" width="4.4" height="17.0" fill="#f23645"/>
<rect x="1073.39" y="472.6" width="4.4" height="15.0" fill="#f23645"/>
<rect x="1078.62" y="479.8" width="4.4" height="7.8" fill="#089981"/>
<rect x="1079.67" y="480.4" width="2.3" height="6.6" fill="#2962ff"/>
<rect x="1083.84" y="479.8" width="4.4" height="2.5" fill="#f23645"/>
<rect x="1089.07" y="483.0" width="4.4" height="19.5" fill="#f23645"/>
<rect x="1094.29" y="502.5" width="4.4" height="4.3" fill="#f23645"/>
<rect x="1099.52" y="506.2" width="4.4" height="1.2" fill="#f23645"/>
<rect x="1104.74" y="508.0" width="4.4" height="24.2" fill="#f23645"/>
<rect x="1109.97" y="532.2" width="4.4" height="21.1" fill="#f23645"/>
<rect x="1115.19" y="553.3" width="4.4" height="15.2" fill="#f23645"/>
<rect x="1120.42" y="527.5" width="4.4" height="41.0" fill="#089981"/>
<rect x="1121.47" y="528.1" width="2.3" height="39.8" fill="#2962ff"/>
<rect x="1125.64" y="522.4" width="4.4" height="5.1" fill="#089981"/>
<rect x="1126.69" y="523.0" width="2.3" height="3.9" fill="#2962ff"/>
<rect x="1130.86" y="522.4" width="4.4" height="20.1" fill="#f23645"/>
<rect x="1136.09" y="542.5" width="4.4" height="12.7" fill="#f23645"/>
<rect x="1141.31" y="551.3" width="4.4" height="3.9" fill="#089981"/>
<rect x="1142.36" y="551.9" width="2.3" height="2.7" fill="#2962ff"/>
<rect x="1146.54" y="543.9" width="4.4" height="7.4" fill="#089981"/>
<rect x="1147.59" y="544.5" width="2.3" height="6.2" fill="#2962ff"/>
<rect x="1151.76" y="532.8" width="4.4" height="11.1" fill="#089981"/>
<rect x="1152.81" y="533.4" width="2.3" height="9.9" fill="#2962ff"/>
<rect x="1156.99" y="532.8" width="4.4" height="4.5" fill="#f23645"/>
<rect x="1162.21" y="537.3" width="4.4" height="30.7" fill="#f23645"/>
<rect x="1167.44" y="525.9" width="4.4" height="42.0" fill="#089981"/>
<rect x="1168.49" y="526.5" width="2.3" height="40.8" fill="#2962ff"/>
<rect x="1172.66" y="511.3" width="4.4" height="14.6" fill="#089981"/>
<rect x="1173.71" y="511.9" width="2.3" height="13.4" fill="#2962ff"/>
<rect x="1177.89" y="511.3" width="4.4" height="26.0" fill="#f23645"/>
<rect x="1183.11" y="534.7" width="4.4" height="2.5" fill="#089981"/>
<rect x="1184.16" y="535.3" width="2.3" height="1.3" fill="#2962ff"/>
<rect x="1188.33" y="524.4" width="4.4" height="9.8" fill="#089981"/>
<rect x="1189.38" y="525.0" width="2.3" height="8.6" fill="#2962ff"/>
<rect x="1193.56" y="524.4" width="4.4" height="5.5" fill="#f23645"/>
<rect x="1198.78" y="522.0" width="4.4" height="7.4" fill="#089981"/>
<rect x="1199.83" y="522.6" width="2.3" height="6.2" fill="#2962ff"/>
<rect x="1204.01" y="489.8" width="4.4" height="31.8" fill="#089981"/>
<rect x="1205.06" y="490.4" width="2.3" height="30.6" fill="#2962ff"/>
<rect x="1209.23" y="442.3" width="4.4" height="46.9" fill="#089981"/>
<rect x="1210.28" y="442.9" width="2.3" height="45.7" fill="#2962ff"/>
<rect x="1214.46" y="416.4" width="4.4" height="26.0" fill="#089981"/>
<rect x="1215.51" y="417.0" width="2.3" height="24.8" fill="#2962ff"/>
<rect x="1219.68" y="415.4" width="4.4" height="1.2" fill="#f23645"/>
<rect x="1224.91" y="394.5" width="4.4" height="21.9" fill="#089981"/>
<rect x="1225.96" y="395.1" width="2.3" height="20.7" fill="#2962ff"/>
<rect x="1230.13" y="394.9" width="4.4" height="1.2" fill="#f23645"/>
<rect x="1235.36" y="387.3" width="4.4" height="8.8" fill="#089981"/>
<rect x="1236.41" y="387.9" width="2.3" height="7.6" fill="#2962ff"/>
<rect x="1240.58" y="374.0" width="4.4" height="13.3" fill="#089981"/>
<rect x="1241.63" y="374.6" width="2.3" height="12.1" fill="#2962ff"/>
<rect x="1245.81" y="333.0" width="4.4" height="40.4" fill="#089981"/>
<rect x="1246.86" y="333.6" width="2.3" height="39.2" fill="#2962ff"/>
<rect x="1251.03" y="333.0" width="4.4" height="3.9" fill="#f23645"/>
<rect x="1256.25" y="327.1" width="4.4" height="9.8" fill="#089981"/>
<rect x="1257.30" y="327.7" width="2.3" height="8.6" fill="#2962ff"/>
<rect x="1261.48" y="308.6" width="4.4" height="18.0" fill="#089981"/>
<rect x="1262.53" y="309.2" width="2.3" height="16.8" fill="#2962ff"/>
<rect x="1266.70" y="288.7" width="4.4" height="19.5" fill="#089981"/>
<rect x="1267.75" y="289.3" width="2.3" height="18.3" fill="#2962ff"/>
<rect x="1271.93" y="279.3" width="4.4" height="9.4" fill="#089981"/>
<rect x="1272.98" y="279.9" width="2.3" height="8.2" fill="#2962ff"/>
<rect x="1277.15" y="279.3" width="4.4" height="58.2" fill="#f23645"/>
<rect x="1282.38" y="337.5" width="4.4" height="6.6" fill="#f23645"/>
<rect x="1287.60" y="337.5" width="4.4" height="6.6" fill="#089981"/>
<rect x="1288.65" y="338.1" width="2.3" height="5.4" fill="#2962ff"/>
<rect x="1292.83" y="334.4" width="4.4" height="3.1" fill="#089981"/>
<rect x="1293.88" y="335.0" width="2.3" height="1.9" fill="#2962ff"/>
<rect x="1298.05" y="326.2" width="4.4" height="8.2" fill="#089981"/>
<rect x="1299.10" y="326.8" width="2.3" height="7.0" fill="#2962ff"/>
<rect x="1303.28" y="326.2" width="4.4" height="27.0" fill="#f23645"/>
<rect x="1308.50" y="353.1" width="4.4" height="7.2" fill="#f23645"/>
<rect x="1313.73" y="360.4" width="4.4" height="14.6" fill="#f23645"/>
<rect x="1318.95" y="375.0" width="4.4" height="18.6" fill="#f23645"/>
<rect x="1324.17" y="393.6" width="4.4" height="19.5" fill="#f23645"/>
<rect x="1329.40" y="413.1" width="4.4" height="12.7" fill="#f23645"/>
<rect x="1334.62" y="403.3" width="4.4" height="22.5" fill="#089981"/>
<rect x="1335.67" y="403.9" width="2.3" height="21.3" fill="#2962ff"/>
<rect x="1339.85" y="381.2" width="4.4" height="21.1" fill="#089981"/>
<rect x="1340.90" y="381.9" width="2.3" height="19.9" fill="#2962ff"/>
<rect x="1345.07" y="381.2" width="4.4" height="22.1" fill="#f23645"/>
<rect x="1350.30" y="392.2" width="4.4" height="11.1" fill="#089981"/>
<rect x="1351.35" y="392.8" width="2.3" height="9.9" fill="#2962ff"/>
<rect x="1355.52" y="357.4" width="4.4" height="33.6" fill="#089981"/>
<rect x="1356.57" y="358.0" width="2.3" height="32.4" fill="#2962ff"/>
<rect x="1360.75" y="354.5" width="4.4" height="2.9" fill="#089981"/>
<rect x="1361.80" y="355.1" width="2.3" height="1.7" fill="#2962ff"/>
<rect x="1365.97" y="346.1" width="4.4" height="8.4" fill="#089981"/>
<rect x="1367.02" y="346.7" width="2.3" height="7.2" fill="#2962ff"/>
<rect x="1371.20" y="346.1" width="4.4" height="1.2" fill="#f23645"/>
<rect x="1376.42" y="347.3" width="4.4" height="20.5" fill="#f23645"/>
<rect x="1381.65" y="320.3" width="4.4" height="47.5" fill="#089981"/>
<rect x="1382.70" y="320.9" width="2.3" height="46.3" fill="#2962ff"/>
<rect x="1386.87" y="279.3" width="4.4" height="41.0" fill="#089981"/>
<rect x="1387.92" y="279.9" width="2.3" height="39.8" fill="#2962ff"/>
<rect x="1392.09" y="265.5" width="4.4" height="14.1" fill="#089981"/>
<rect x="1393.14" y="266.1" width="2.3" height="12.9" fill="#2962ff"/>
<rect x="1397.32" y="254.2" width="4.4" height="11.3" fill="#089981"/>
<rect x="1398.37" y="254.8" width="2.3" height="10.1" fill="#2962ff"/>
<rect x="1402.54" y="254.2" width="4.4" height="14.1" fill="#f23645"/>
<rect x="1407.77" y="245.4" width="4.4" height="22.9" fill="#089981"/>
<rect x="1408.82" y="246.0" width="2.3" height="21.7" fill="#2962ff"/>
<rect x="1412.99" y="245.4" width="4.4" height="21.5" fill="#f23645"/>
<rect x="1418.22" y="266.9" width="4.4" height="49.8" fill="#f23645"/>
<rect x="1423.44" y="294.3" width="4.4" height="22.5" fill="#089981"/>
<rect x="1424.49" y="294.9" width="2.3" height="21.3" fill="#2962ff"/>
<rect x="1428.67" y="294.3" width="4.4" height="18.6" fill="#f23645"/>
<rect x="1433.89" y="263.0" width="4.4" height="49.8" fill="#089981"/>
<rect x="1434.94" y="263.6" width="2.3" height="48.6" fill="#2962ff"/>
<rect x="1439.12" y="263.0" width="4.4" height="10.4" fill="#f23645"/>
<rect x="1444.34" y="273.4" width="4.4" height="2.7" fill="#f23645"/>
<rect x="1449.56" y="276.1" width="4.4" height="46.5" fill="#f23645"/>
<rect x="1454.79" y="303.4" width="4.4" height="19.1" fill="#089981"/>
<rect x="1455.84" y="304.0" width="2.3" height="17.9" fill="#2962ff"/>
<rect x="1460.01" y="303.4" width="4.4" height="10.9" fill="#f23645"/>
<rect x="1465.24" y="309.3" width="4.4" height="4.5" fill="#089981"/>
<rect x="1466.29" y="309.9" width="2.3" height="3.3" fill="#2962ff"/>
<rect x="1470.46" y="309.3" width="4.4" height="20.7" fill="#f23645"/>
<rect x="1475.69" y="330.0" width="4.4" height="3.3" fill="#f23645"/>
<rect x="1480.91" y="333.3" width="4.4" height="7.8" fill="#f23645"/>
<rect x="1486.14" y="341.1" width="4.4" height="6.4" fill="#f23645"/>
<rect x="1491.36" y="324.6" width="4.4" height="22.7" fill="#089981"/>
<rect x="1492.41" y="325.2" width="2.3" height="21.5" fill="#2962ff"/>
<rect x="1496.59" y="322.6" width="4.4" height="1.2" fill="#089981"/>
<rect x="1497.64" y="322.6" width="2.3" height="1.2" fill="#1f6fd0"/>
<rect x="1501.81" y="322.7" width="4.4" height="19.1" fill="#f23645"/>
<rect x="1507.04" y="327.7" width="4.4" height="14.1" fill="#089981"/>
<rect x="1508.09" y="328.3" width="2.3" height="12.9" fill="#2962ff"/>
<rect x="1512.26" y="327.7" width="4.4" height="8.2" fill="#f23645"/>
<rect x="1517.48" y="324.2" width="4.4" height="11.3" fill="#089981"/>
<rect x="1518.53" y="324.8" width="2.3" height="10.1" fill="#2962ff"/>
<rect x="1522.71" y="304.7" width="4.4" height="19.5" fill="#089981"/>
<rect x="1523.76" y="305.3" width="2.3" height="18.3" fill="#2962ff"/>
<rect x="1527.93" y="303.7" width="4.4" height="1.2" fill="#089981"/>
<rect x="1528.98" y="303.7" width="2.3" height="1.2" fill="#1f6fd0"/>
<rect x="1533.16" y="291.4" width="4.4" height="12.9" fill="#089981"/>
<rect x="1534.21" y="292.0" width="2.3" height="11.7" fill="#2962ff"/>
<rect x="1538.38" y="286.1" width="4.4" height="5.3" fill="#089981"/>
<rect x="1539.43" y="286.7" width="2.3" height="4.1" fill="#2962ff"/>
<rect x="1543.61" y="271.5" width="4.4" height="14.6" fill="#089981"/>
<rect x="1544.66" y="272.1" width="2.3" height="13.4" fill="#2962ff"/>
<rect x="1548.83" y="264.0" width="4.4" height="6.8" fill="#089981"/>
<rect x="1549.88" y="264.6" width="2.3" height="5.6" fill="#2962ff"/>
<rect x="1554.06" y="264.0" width="4.4" height="24.4" fill="#f23645"/>
<rect x="1559.28" y="289.1" width="4.4" height="16.0" fill="#f23645"/>
<rect x="1564.51" y="294.4" width="4.4" height="10.7" fill="#089981"/>
<rect x="1565.56" y="295.0" width="2.3" height="9.5" fill="#2962ff"/>
<rect x="1569.73" y="273.5" width="4.4" height="20.9" fill="#089981"/>
<rect x="1570.78" y="274.1" width="2.3" height="19.7" fill="#2962ff"/>
<rect x="1574.96" y="266.9" width="4.4" height="6.1" fill="#089981"/>
<rect x="1576.01" y="267.5" width="2.3" height="4.9" fill="#2962ff"/>
<rect x="1580.18" y="266.9" width="4.4" height="20.7" fill="#f23645"/>
<rect x="1585.40" y="286.6" width="4.4" height="2.0" fill="#089981"/>
<rect x="1586.45" y="287.2" width="2.3" height="0.8" fill="#2962ff"/>
<rect x="1590.63" y="286.6" width="4.4" height="4.9" fill="#f23645"/>
<rect x="1595.85" y="291.9" width="4.4" height="38.7" fill="#f23645"/>
<rect x="1601.08" y="330.2" width="4.4" height="14.1" fill="#f23645"/>
<rect x="1606.30" y="339.9" width="4.4" height="4.3" fill="#089981"/>
<rect x="1607.35" y="340.5" width="2.3" height="3.1" fill="#2962ff"/>
<rect x="1611.53" y="339.9" width="4.4" height="34.6" fill="#f23645"/>
<rect x="1616.75" y="354.4" width="4.4" height="20.1" fill="#089981"/>
<rect x="1617.80" y="355.0" width="2.3" height="18.9" fill="#2962ff"/>
<rect x="1621.98" y="354.4" width="4.4" height="7.4" fill="#f23645"/>
<rect x="1627.20" y="342.3" width="4.4" height="19.5" fill="#089981"/>
<rect x="1628.25" y="342.9" width="2.3" height="18.3" fill="#2962ff"/>
<rect x="1632.43" y="342.6" width="4.4" height="1.2" fill="#f23645"/>
<rect x="1637.65" y="342.1" width="4.4" height="1.2" fill="#089981"/>
<rect x="1638.70" y="342.1" width="2.3" height="1.2" fill="#1f6fd0"/>
<rect x="1642.88" y="313.9" width="4.4" height="28.7" fill="#089981"/>
<rect x="1643.93" y="314.5" width="2.3" height="27.5" fill="#2962ff"/>
<rect x="1648.10" y="300.9" width="4.4" height="12.5" fill="#089981"/>
<rect x="1649.15" y="301.5" width="2.3" height="11.3" fill="#2962ff"/>
<rect x="1653.32" y="300.9" width="4.4" height="3.3" fill="#f23645"/>
<rect x="1658.55" y="304.2" width="4.4" height="17.6" fill="#f23645"/>
<rect x="1663.77" y="321.2" width="4.4" height="1.2" fill="#f23645"/>
<rect x="1669.00" y="300.3" width="4.4" height="22.1" fill="#089981"/>
<rect x="1670.05" y="300.9" width="2.3" height="20.9" fill="#2962ff"/>
<rect x="1674.22" y="300.3" width="4.4" height="33.8" fill="#f23645"/>
<rect x="1679.45" y="321.8" width="4.4" height="12.3" fill="#089981"/>
<rect x="1680.50" y="322.4" width="2.3" height="11.1" fill="#2962ff"/>
<rect x="1684.67" y="321.8" width="4.4" height="15.6" fill="#f23645"/>
<rect x="1689.90" y="337.4" width="4.4" height="121.1" fill="#f23645"/>
<rect x="1695.12" y="458.5" width="4.4" height="22.5" fill="#f23645"/>
<rect x="1700.35" y="423.3" width="4.4" height="57.6" fill="#089981"/>
<rect x="1701.40" y="423.9" width="2.3" height="56.4" fill="#2962ff"/>
<rect x="1705.57" y="401.2" width="4.4" height="21.5" fill="#089981"/>
<rect x="1706.62" y="401.9" width="2.3" height="20.3" fill="#2962ff"/>
<rect x="1710.79" y="401.2" width="4.4" height="23.0" fill="#f23645"/>
<rect x="1716.02" y="424.3" width="4.4" height="25.0" fill="#f23645"/>
<rect x="1721.24" y="449.4" width="4.4" height="20.3" fill="#f23645"/>
<rect x="1726.47" y="469.7" width="4.4" height="18.2" fill="#f23645"/>
<rect x="1731.69" y="479.5" width="4.4" height="8.4" fill="#089981"/>
<rect x="1732.74" y="480.1" width="2.3" height="7.2" fill="#2962ff"/>
<rect x="1736.92" y="463.0" width="4.4" height="16.4" fill="#089981"/>
<rect x="1737.97" y="463.6" width="2.3" height="15.2" fill="#2962ff"/>
<rect x="1742.14" y="455.2" width="4.4" height="7.8" fill="#089981"/>
<rect x="1743.19" y="455.8" width="2.3" height="6.6" fill="#2962ff"/>
<rect x="1747.37" y="455.2" width="4.4" height="17.0" fill="#f23645"/>
<rect x="1752.59" y="472.2" width="4.4" height="17.0" fill="#f23645"/>
<rect x="1757.82" y="471.6" width="4.4" height="17.2" fill="#089981"/>
<rect x="1758.87" y="472.2" width="2.3" height="16.0" fill="#2962ff"/>
<rect x="1763.04" y="460.5" width="4.4" height="11.1" fill="#089981"/>
<rect x="1764.09" y="461.1" width="2.3" height="9.9" fill="#2962ff"/>
<rect x="1768.27" y="460.5" width="4.4" height="1.2" fill="#f23645"/>
<rect x="1773.49" y="439.6" width="4.4" height="21.9" fill="#089981"/>
<rect x="1774.54" y="440.2" width="2.3" height="20.7" fill="#2962ff"/>
<rect x="1778.71" y="439.6" width="4.4" height="11.7" fill="#f23645"/>
<rect x="1783.94" y="451.3" width="4.4" height="18.0" fill="#f23645"/>
<rect x="1789.16" y="469.3" width="4.4" height="4.9" fill="#f23645"/>
<rect x="1794.39" y="474.2" width="4.4" height="35.2" fill="#f23645"/>
<rect x="1799.61" y="502.9" width="4.4" height="6.4" fill="#089981"/>
<rect x="1800.66" y="503.5" width="2.3" height="5.2" fill="#2962ff"/>
<rect x="1804.84" y="499.6" width="4.4" height="3.3" fill="#089981"/>
<rect x="1805.89" y="500.2" width="2.3" height="2.1" fill="#2962ff"/>
<rect x="1810.06" y="499.9" width="4.4" height="1.2" fill="#f23645"/>
<rect x="1815.29" y="500.9" width="4.4" height="56.6" fill="#f23645"/>
<rect x="1820.51" y="557.2" width="4.4" height="34.2" fill="#f23645"/>
<rect x="1825.74" y="565.0" width="4.4" height="25.8" fill="#089981"/>
<rect x="1826.79" y="565.6" width="2.3" height="24.6" fill="#2962ff"/>
<rect x="1830.96" y="565.0" width="4.4" height="14.1" fill="#f23645"/>
<rect x="1836.19" y="534.1" width="4.4" height="44.9" fill="#089981"/>
<rect x="1837.24" y="534.7" width="2.3" height="43.7" fill="#2962ff"/>
<rect x="1841.41" y="534.1" width="4.4" height="7.4" fill="#f23645"/>
<rect x="1846.63" y="530.8" width="4.4" height="10.7" fill="#089981"/>
<rect x="1847.68" y="531.4" width="2.3" height="9.5" fill="#2962ff"/>
<rect x="1851.86" y="518.1" width="4.4" height="12.7" fill="#089981"/>
<rect x="1852.91" y="518.7" width="2.3" height="11.5" fill="#2962ff"/>
<rect x="1857.08" y="518.1" width="4.4" height="35.5" fill="#f23645"/>
<rect x="1862.31" y="553.7" width="4.4" height="10.4" fill="#f23645"/>
<rect x="1867.53" y="564.0" width="4.4" height="17.6" fill="#f23645"/>
<rect x="1872.76" y="581.6" width="4.4" height="33.8" fill="#f23645"/>
<rect x="1877.98" y="610.3" width="4.4" height="5.1" fill="#089981"/>
<rect x="1879.03" y="610.9" width="2.3" height="3.9" fill="#2962ff"/>
<rect x="1883.21" y="610.3" width="4.4" height="5.1" fill="#f23645"/>
<line x1="1483.2" y1="208.0" x2="1483.2" y2="600.4" stroke="#000" stroke-width="2.1"/>
<line x1="1466.8" y1="208.0" x2="1499.6000000000001" y2="208.0" stroke="#000" stroke-width="2.4"/>
<line x1="1466.7" y1="600.6999999999999" x2="1499.7" y2="600.6999999999999" stroke="#000" stroke-width="2"/>
<path d="M1471.0,588.4 L1483.2,600.4 L1495.4,588.4" fill="none" stroke="#000" stroke-width="2.2" stroke-linecap="round" stroke-linejoin="miter"/>
<line x1="1634.2" y1="598.4" x2="1634.2" y2="946.9" stroke="#000" stroke-width="2.1"/>
<line x1="1622.8" y1="598.4" x2="1645.6000000000001" y2="598.4" stroke="#000" stroke-width="2.4"/>
<line x1="1622.8" y1="947.1999999999999" x2="1645.6000000000001" y2="947.1999999999999" stroke="#000" stroke-width="2"/>
<path d="M1622.0,934.9 L1634.2,946.9 L1646.4,934.9" fill="none" stroke="#000" stroke-width="2.2" stroke-linecap="round" stroke-linejoin="miter"/>
<text x="1483.2" y="632.3" font-size="14" fill="#1e2128" textLength="180.6" lengthAdjust="spacing" text-anchor="middle">−0.5138 (−50.11%) −5,138</text>
<text x="1634.1" y="978.4" font-size="14" fill="#1e2128" textLength="180.6" lengthAdjust="spacing" text-anchor="middle">−0.2366 (−46.08%) −2,366</text>
</g>
<rect x="1950.5" y="198.5" width="80.5" height="26.0" rx="2.5" fill="#000"/>
<text x="1962.7" y="218.3" font-size="19.5" fill="#fff" textLength="60.0" lengthAdjust="spacing">1.0193</text>
<rect x="1950.5" y="934" width="80.5" height="26" rx="2.5" fill="#000"/>
<text x="1962.7" y="953.6" font-size="19.5" fill="#fff" textLength="60.0" lengthAdjust="spacing">0.2769</text>
<rect x="1950.5" y="611" width="80.5" height="28.5" rx="2.5" fill="#000"/>
<text x="1962.7" y="633.7" font-size="19.5" fill="#fff" textLength="60.0" lengthAdjust="spacing">0.4909</text>
<rect x="1950.5" y="587" width="80.5" height="26.600000000000023" rx="2.5" fill="#000"/>
<text x="1962.7" y="607.2" font-size="19.5" fill="#fff" textLength="60.0" lengthAdjust="spacing">0.5119</text>
<g stroke="#131722" stroke-width="0.3">
<text x="21.0" y="53.6" font-size="14" fill="#131722" textLength="226.7" lengthAdjust="spacing">Cardano / US Dollar · 1D · Coinbase</text>
<text x="256.6" y="53.6" font-size="14" fill="#131722">O</text>
<text x="267.0" y="53.6" font-size="14" fill="#f23645" textLength="45.5" lengthAdjust="spacing" stroke="#f23645">0.5032</text>
<text x="320.7" y="53.6" font-size="14" fill="#131722">H</text>
<text x="330.5" y="53.6" font-size="14" fill="#f23645" textLength="46.0" lengthAdjust="spacing" stroke="#f23645">0.5089</text>
<text x="385.5" y="53.6" font-size="14" fill="#131722">L</text>
<text x="393.0" y="53.6" font-size="14" fill="#f23645" textLength="45.5" lengthAdjust="spacing" stroke="#f23645">0.4920</text>
<text x="447.0" y="53.6" font-size="14" fill="#131722">C</text>
<text x="456.8" y="53.6" font-size="14" fill="#f23645" textLength="45.6" lengthAdjust="spacing" stroke="#f23645">0.4982</text>
<text x="511.5" y="53.6" font-size="14" fill="#131722" textLength="19.0" lengthAdjust="spacing">Vol</text>
<text x="531.4" y="53.6" font-size="14" fill="#f23645" textLength="48.0" lengthAdjust="spacing" stroke="#f23645">20.13 M</text>
<text x="21.0" y="73.5" font-size="14" fill="#131722" textLength="101.2" lengthAdjust="spacing">EMA (50, close)</text>
<text x="131.4" y="73.5" font-size="14" fill="#2962ff" textLength="43.7" lengthAdjust="spacing" stroke="#2962ff">0.6421</text>
<text x="21.0" y="92.5" font-size="14" fill="#131722" textLength="109.8" lengthAdjust="spacing">EMA (200, close)</text>
<text x="139.8" y="92.5" font-size="14" fill="#131722" textLength="42.5" lengthAdjust="spacing">0.7218</text>
</g>
<rect x="1954.5" y="35.5" width="77" height="28.5" rx="4" fill="#fff" stroke="#f2f3f6" stroke-width="1.2"/>
<text x="1964.3" y="54.9" font-size="14" fill="#131722">USD</text>
<g transform="translate(13.9,1110.5) scale(0.96)" fill="#131313"><path d="M14 22H7V11H0V4h14v18z"/><circle cx="20" cy="8" r="3.8"/><path d="M28 22h-8l7.5-18h8L28 22z"/></g>
<text x="56.3" y="1131.4" font-size="23.6" fill="#131313" font-weight="bold" textLength="138.0" lengthAdjust="spacingAndGlyphs">TradingView</text>
</svg>
</body></html>
